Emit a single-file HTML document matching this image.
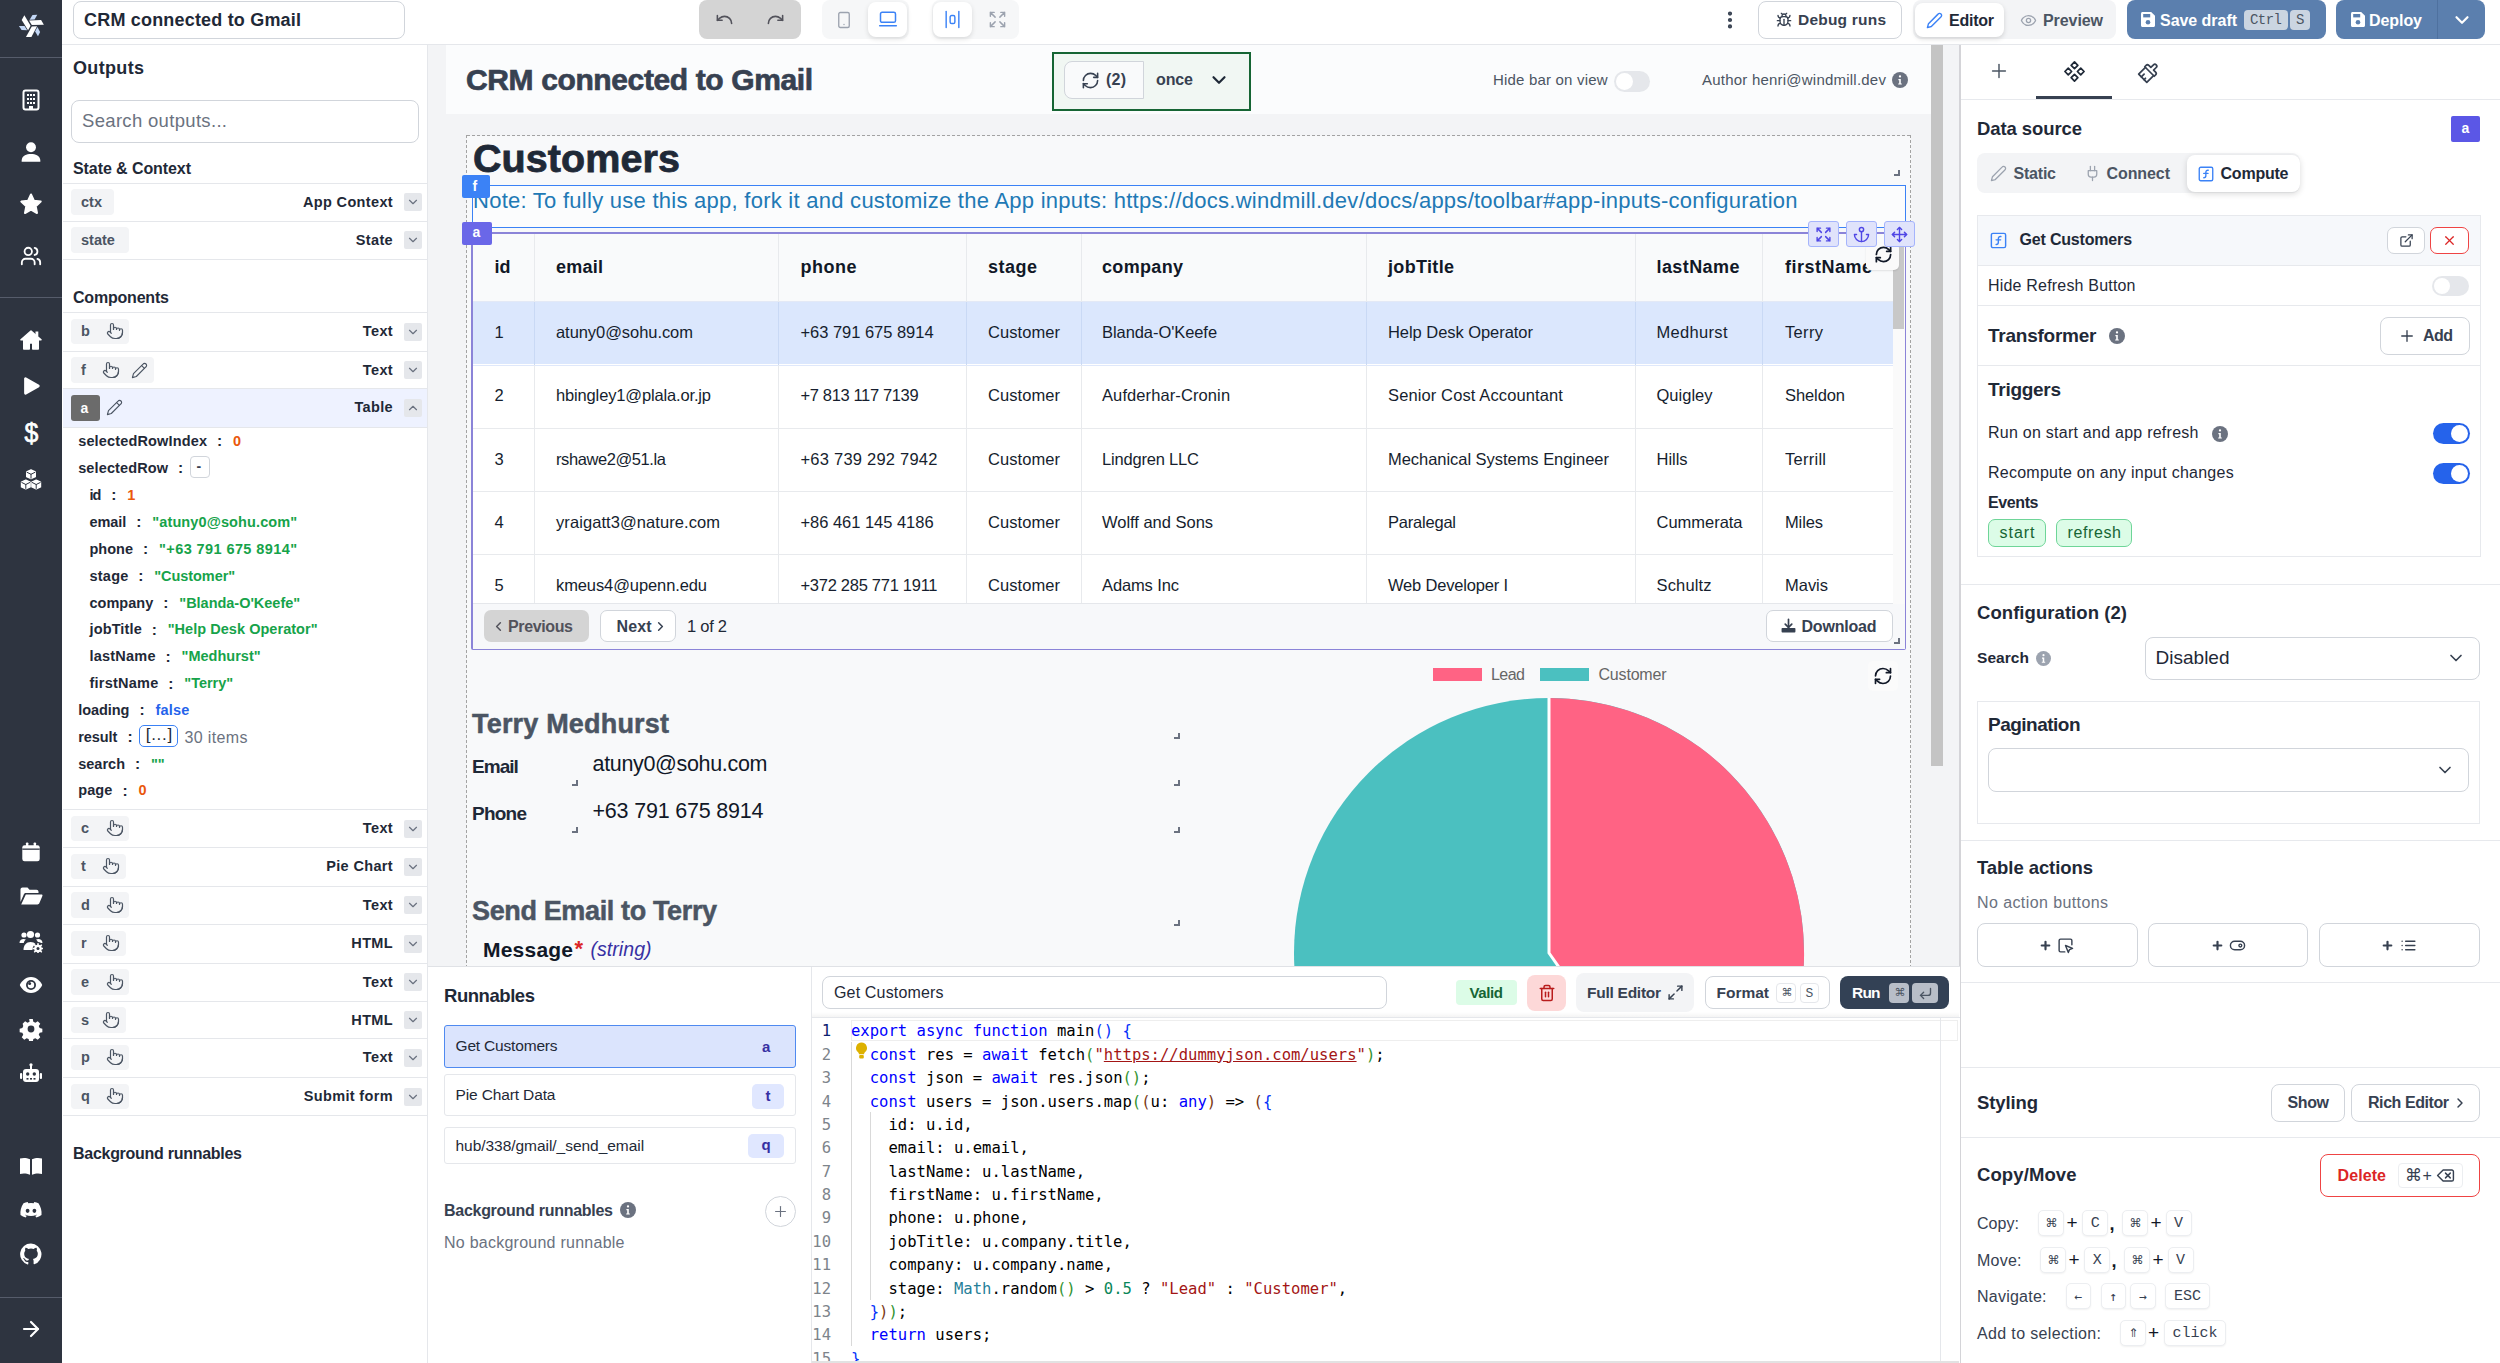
<!DOCTYPE html>
<html lang="en"><head><meta charset="utf-8"><title>CRM connected to Gmail</title><style>
*{box-sizing:border-box;margin:0;padding:0}
html,body{width:2500px;height:1363px;overflow:hidden;background:#fff}
body{position:relative;font-family:"Liberation Sans",sans-serif;color:#1f2937}
.b{position:absolute;display:block}
.t{position:absolute;white-space:nowrap;display:block}
</style></head><body>
<div class="b" style="left:0px;top:0px;width:62px;height:1363px;background:#2e3440;"></div>
<div class="b" style="left:0px;top:57px;width:62px;height:1px;background:#565c6b;"></div>
<div class="b" style="left:0px;top:297px;width:62px;height:1px;background:#565c6b;"></div>
<div class="b" style="left:0px;top:1297px;width:62px;height:1px;background:#565c6b;"></div>
<svg class="b" style="left:0;top:0" width="62" height="56" viewBox="0 0 62 56"><polygon points="29.60,19.80 32.50,15.00 37.30,14.70 34.60,19.60" fill="#c3d7f6"/><polygon points="37.41,27.09 40.12,32.00 37.98,36.31 35.08,31.52" fill="#c3d7f6"/><polygon points="27.19,30.21 21.58,30.10 18.92,26.09 24.52,25.98" fill="#c3d7f6"/><polygon points="29.10,20.50 41.10,20.10 43.90,24.80 31.80,25.00" fill="#fff"/><polygon points="37.05,26.31 31.40,36.90 25.93,36.98 31.81,26.40" fill="#fff"/><polygon points="28.05,30.29 21.70,20.10 24.37,15.32 30.59,25.70" fill="#fff"/></svg>
<svg class="b" style="left:19.0px;top:88.0px;" width="24" height="24" viewBox="0 0 24 24" fill="#fff" stroke="none" stroke-width="0" stroke-linecap="round" stroke-linejoin="round"><rect x="4.5" y="2.5" width="15" height="19" rx="2" fill="none" stroke="#fff" stroke-width="2"/><rect x="8" y="6" width="2" height="2" fill="#fff"/><rect x="8" y="10" width="2" height="2" fill="#fff"/><rect x="8" y="14" width="2" height="2" fill="#fff"/><rect x="11" y="6" width="2" height="2" fill="#fff"/><rect x="11" y="10" width="2" height="2" fill="#fff"/><rect x="11" y="14" width="2" height="2" fill="#fff"/><rect x="14" y="6" width="2" height="2" fill="#fff"/><rect x="14" y="10" width="2" height="2" fill="#fff"/><rect x="14" y="14" width="2" height="2" fill="#fff"/><rect x="10" y="18" width="4" height="3.5" fill="#fff"/></svg>
<svg class="b" style="left:20.0px;top:141.0px;" width="22" height="22" viewBox="0 0 24 24" fill="#fff" stroke="none" stroke-width="0" stroke-linecap="round" stroke-linejoin="round"><circle cx="12" cy="6.800" r="5.400"/><path d="M1.800 22.600c0-1.200 0-1.800.3-2.900 1-3.700 4.700-5.500 9.900-5.500s8.900 1.800 9.900 5.500c.3 1.100.3 1.700.3 2.900z"/></svg>
<svg class="b" style="left:19.0px;top:192.0px;" width="24" height="24" viewBox="0 0 24 24" fill="#fff" stroke="none" stroke-width="0" stroke-linecap="round" stroke-linejoin="round"><path d="M12 2.500l2.900 6.200 6.800.9-5 4.700 1.300 6.700L12 17.700 6 21l1.300-6.700-5-4.700 6.800-.9z" stroke="#fff" stroke-width="2" stroke-linejoin="round"/></svg>
<svg class="b" style="left:20.0px;top:245.0px;" width="22" height="22" viewBox="0 0 24 24" fill="none" stroke="#fff" stroke-width="2" stroke-linecap="round" stroke-linejoin="round"><path d="M16 21v-2a4 4 0 0 0-4-4H6a4 4 0 0 0-4 4v2"/><circle cx="9" cy="7" r="4"/><path d="M22 21v-2a4 4 0 0 0-3-3.87"/><path d="M16 3.13a4 4 0 0 1 0 7.75"/></svg>
<svg class="b" style="left:19.0px;top:328.0px;" width="24" height="24" viewBox="0 0 24 24" fill="#fff" stroke="none" stroke-width="0" stroke-linecap="round" stroke-linejoin="round"><path d="M12 3L2 11.800h2.800V21h5.400v-6h3.600v6h5.400v-9.200H22z" stroke="#fff" stroke-width="1.600" stroke-linejoin="round"/><rect x="16.500" y="3.500" width="2.800" height="5" /></svg>
<svg class="b" style="left:20.0px;top:375.0px;" width="22" height="22" viewBox="0 0 24 24" fill="#fff" stroke="none" stroke-width="0" stroke-linecap="round" stroke-linejoin="round"><path d="M6 4v16l14-8z" stroke="#fff" stroke-width="3" stroke-linejoin="round"/></svg>
<span class="t" style="top:416.0px;font-size:27px;line-height:35px;color:#fff;left:23.7px;-webkit-text-stroke:0.7px #fff;transform:scaleX(0.92);transform-origin:center;">$</span>
<svg class="b" style="left:19.0px;top:468.0px;" width="24" height="24" viewBox="0 0 24 24" fill="#fff" stroke="none" stroke-width="0" stroke-linecap="round" stroke-linejoin="round"><g stroke="#fff" stroke-width="1.400" stroke-linejoin="round"><path d="M12 2l4.300 1.900v4.800L12 10.600 7.700 8.700V3.900z"/><path d="M6.800 12.200l4.300 1.900v4.800l-4.300 1.900-4.300-1.900v-4.800z"/><path d="M17.200 12.200l4.300 1.900v4.800l-4.300 1.900-4.300-1.900v-4.800z"/></g><path d="M12 6.300v4M6.800 16.500v4M17.200 16.500v4M8 4.300l4 2 4-2M2.800 14.500l4 2 4-2M13.200 14.500l4 2 4-2" stroke="#2e3440" stroke-width="1" fill="none"/></svg>
<svg class="b" style="left:20.0px;top:841.0px;" width="22" height="22" viewBox="0 0 24 24" fill="#fff" stroke="none" stroke-width="0" stroke-linecap="round" stroke-linejoin="round"><rect x="2.5" y="4.5" width="19" height="17.5" rx="2.5"/><rect x="6.5" y="1.5" width="2.6" height="5" rx="1"/><rect x="14.9" y="1.5" width="2.6" height="5" rx="1"/><rect x="2.5" y="8.2" width="19" height="1.4" fill="#2e3440"/></svg>
<svg class="b" style="left:19.0px;top:884.0px;" width="24" height="24" viewBox="0 0 24 24" fill="#fff" stroke="none" stroke-width="0" stroke-linecap="round" stroke-linejoin="round"><path d="M1.5 5.5c0-1.1.9-2 2-2h5l2 2.2h7c1.1 0 2 .9 2 2V9H6.8c-.9 0-1.7.6-2 1.4L1.5 18z"/><path d="M6.8 10.6h15.8c.7 0 1.1.7.8 1.3l-3.1 7.4c-.3.7-1 1.2-1.8 1.2H2.2z"/></svg>
<svg class="b" style="left:19.0px;top:929.0px;" width="24" height="24" viewBox="0 0 24 24" fill="#fff" stroke="none" stroke-width="0" stroke-linecap="round" stroke-linejoin="round"><circle cx="5" cy="6" r="2.6"/><circle cx="11.5" cy="5.5" r="3.6"/><circle cx="18.5" cy="6" r="2.6"/><path d="M.5 14c0-2.5 1.8-4 4.2-4 .9 0 1.6.2 2.2.6-1.2 1-2 2.300-2.100 3.400z"/><path d="M4.500 21c0-5 3-8 7-8 2.300 0 4 .8 5.200 2.300-1.900.9-3.200 2.900-3.200 5.200 0 .2 0 .3.030.5z"/><path d="M23.500 14c0-2.500-1.800-4-4.200-4-.9 0-1.600.2-2.200.6.800.7 1.400 1.500 1.800 2.500 1.200.1 2.300.5 3.200.9z"/><circle cx="19" cy="19.500" r="3.800"/><circle cx="19" cy="19.500" r="1.500" fill="#2e3440"/><path d="M19 14.800v1.400M19 22.800v1.400M14.300 19.500h1.400M22.300 19.500h1.400M15.700 16.200l1 1M21.300 21.800l1 1M15.700 22.800l1-1M21.300 17.200l1-1" stroke="#fff" stroke-width="1.600"/></svg>
<svg class="b" style="left:19.0px;top:973.0px;" width="24" height="24" viewBox="0 0 24 24" fill="#fff" stroke="none" stroke-width="0" stroke-linecap="round" stroke-linejoin="round"><path d="M12 4C6 4 2 9 .8 12 2 15 6 20 12 20s10-5 11.200-8C22 9 18 4 12 4z"/><circle cx="12" cy="12" r="5" fill="#2e3440"/><circle cx="12" cy="12" r="3.200" fill="#fff"/><circle cx="10.600" cy="10.600" r="1.500" fill="#2e3440"/></svg>
<svg class="b" style="left:19.0px;top:1017.0px;" width="24" height="24" viewBox="0 0 24 24" fill="#fff" stroke="none" stroke-width="0" stroke-linecap="round" stroke-linejoin="round"><path d="M10 1h4l.6 3 2.300 1 2.600-1.700 2.800 2.800-1.700 2.600 1 2.300 3 .6v4l-3 .6-1 2.300 1.700 2.600-2.800 2.800-2.600-1.700-2.300 1-.6 3h-4l-.6-3-2.300-1-2.600 1.700-2.800-2.800 1.700-2.600-1-2.300-3-.6v-4l3-.6 1-2.300L2.700 6.100l2.800-2.800L8.100 5l2.300-1z" transform="translate(1.200 1.200) scale(.9)"/><circle cx="12" cy="12" r="3.400" fill="#2e3440"/></svg>
<svg class="b" style="left:19.0px;top:1062.0px;" width="24" height="24" viewBox="0 0 24 24" fill="#fff" stroke="none" stroke-width="0" stroke-linecap="round" stroke-linejoin="round"><rect x="4" y="7" width="16" height="13" rx="3"/><rect x="11" y="2.500" width="2" height="5"/><circle cx="12" cy="2.800" r="1.600"/><rect x="1" y="11" width="2.200" height="6" rx="1"/><rect x="20.800" y="11" width="2.200" height="6" rx="1"/><circle cx="8.700" cy="12" r="1.700" fill="#2e3440"/><circle cx="15.300" cy="12" r="1.700" fill="#2e3440"/><rect x="7.500" y="16" width="2" height="1.600" fill="#2e3440"/><rect x="11" y="16" width="2" height="1.600" fill="#2e3440"/><rect x="14.500" y="16" width="2" height="1.600" fill="#2e3440"/></svg>
<svg class="b" style="left:19.0px;top:1154.0px;" width="24" height="24" viewBox="0 0 24 24" fill="#fff" stroke="none" stroke-width="0" stroke-linecap="round" stroke-linejoin="round"><path d="M1 4.500c3-.9 6.500-.9 10 .8v15.500c-3.500-1.600-7-1.600-10-.8z"/><path d="M23 4.500c-3-.9-6.500-.9-10 .8v15.500c3.500-1.600 7-1.600 10-.8z"/></svg>
<svg class="b" style="left:19.0px;top:1198.0px;" width="24" height="24" viewBox="0 0 24 24" fill="#fff" stroke="none" stroke-width="0" stroke-linecap="round" stroke-linejoin="round"><path d="M19.500 5.300A17 17 0 0 0 15.300 4l-.6 1.200a15.600 15.600 0 0 0-5.400 0L8.700 4a17 17 0 0 0-4.200 1.300C1.800 9.300 1.100 13.200 1.500 17a17 17 0 0 0 5.200 2.600l1.100-1.800c-.6-.2-1.200-.5-1.700-.8l.4-.3a12.200 12.200 0 0 0 11 0l.4.3c-.5.300-1.100.6-1.700.8l1.100 1.800a17 17 0 0 0 5.200-2.600c.5-4.400-.8-8.300-3-11.700z"/><ellipse cx="8.600" cy="12.800" rx="1.900" ry="2.100" fill="#2e3440"/><ellipse cx="15.400" cy="12.800" rx="1.900" ry="2.100" fill="#2e3440"/></svg>
<svg class="b" style="left:19.0px;top:1242.0px;" width="24" height="24" viewBox="0 0 24 24" fill="#fff" stroke="none" stroke-width="0" stroke-linecap="round" stroke-linejoin="round"><path d="M12 1.500A10.700 10.700 0 0 0 8.600 22.400c.5.1.7-.2.7-.5v-2c-3 .7-3.600-1.300-3.600-1.300-.5-1.200-1.200-1.600-1.200-1.600-1-.7.1-.7.1-.7 1.100.1 1.700 1.100 1.700 1.100 1 1.600 2.500 1.200 3.100.9.100-.7.400-1.200.7-1.400-2.400-.3-4.900-1.200-4.900-5.300 0-1.200.4-2.100 1.100-2.900-.1-.3-.5-1.400.1-2.800 0 0 .9-.3 2.900 1.100a10 10 0 0 1 5.400 0c2-1.400 2.900-1.100 2.900-1.100.6 1.400.2 2.500.1 2.800.7.800 1.100 1.700 1.100 2.900 0 4.100-2.500 5-4.900 5.300.4.300.7 1 .7 2v2.900c0 .3.200.6.700.5A10.700 10.700 0 0 0 12 1.500z"/></svg>
<svg class="b" style="left:19.0px;top:1317.0px;" width="24" height="24" viewBox="0 0 24 24" fill="none" stroke="#fff" stroke-width="2.2" stroke-linecap="round" stroke-linejoin="round"><path d="M5 12h14"/><path d="m12 5 7 7-7 7"/></svg>
<div class="b" style="left:62px;top:44px;width:2438px;height:1px;background:#e5e7eb;"></div>
<div class="b" style="left:73px;top:1px;width:332px;height:38px;background:#fff;border:1px solid #d1d5db;border-radius:8px;"></div>
<span class="t" style="top:8.5px;font-size:18px;line-height:23px;color:#1f2937;font-weight:700;letter-spacing:0.19px;left:84.0px;">CRM connected to Gmail</span>
<div class="b" style="left:699px;top:0px;width:102px;height:39px;background:#d4d4d4;border-radius:8px;"></div>
<svg class="b" style="left:714.5px;top:9.5px;" width="19" height="19" viewBox="0 0 24 24" fill="none" stroke="#52525b" stroke-width="2" stroke-linecap="round" stroke-linejoin="round"><path d="M3 7v6h6"/><path d="M21 17a9 9 0 0 0-9-9 9 9 0 0 0-6 2.3L3 13"/></svg>
<svg class="b" style="left:765.5px;top:9.5px;" width="19" height="19" viewBox="0 0 24 24" fill="none" stroke="#52525b" stroke-width="2" stroke-linecap="round" stroke-linejoin="round"><path d="M21 7v6h-6"/><path d="M3 17a9 9 0 0 1 9-9 9 9 0 0 1 6 2.3l3 2.7"/></svg>
<div class="b" style="left:822px;top:0px;width:87px;height:39px;background:#f6f7f8;border-radius:8px;"></div>
<div class="b" style="left:868px;top:2px;width:39px;height:35px;background:#fff;border-radius:8px;box-shadow:0 2px 5px rgba(0,0,0,.12);"></div>
<svg class="b" style="left:834.5px;top:10.5px;" width="18" height="18" viewBox="0 0 24 24" fill="none" stroke="#9ca3af" stroke-width="1.8" stroke-linecap="round" stroke-linejoin="round"><rect width="14" height="20" x="5" y="2" rx="2" ry="2"/><path d="M12 18h.01"/></svg>
<svg class="b" style="left:877.5px;top:9.0px;" width="20" height="20" viewBox="0 0 24 24" fill="none" stroke="#3b82f6" stroke-width="1.8" stroke-linecap="round" stroke-linejoin="round"><rect width="18" height="12" x="3" y="4" rx="2" ry="2"/><line x1="2" x2="22" y1="20" y2="20"/></svg>
<div class="b" style="left:932px;top:0px;width:87px;height:39px;background:#f6f7f8;border-radius:8px;"></div>
<div class="b" style="left:933px;top:2px;width:39px;height:35px;background:#fff;border-radius:8px;box-shadow:0 2px 5px rgba(0,0,0,.12);"></div>
<svg class="b" style="left:943.0px;top:10.0px;" width="19" height="19" viewBox="0 0 24 24" fill="none" stroke="#3b82f6" stroke-width="1.8" stroke-linecap="round" stroke-linejoin="round"><rect width="6" height="10" x="9" y="7" rx="2"/><path d="M4 22V2"/><path d="M20 22V2"/></svg>
<svg class="b" style="left:987.5px;top:10.0px;" width="19" height="19" viewBox="0 0 24 24" fill="none" stroke="#9ca3af" stroke-width="1.8" stroke-linecap="round" stroke-linejoin="round"><path d="m21 21-6-6m6 6v-4.8m0 4.8h-4.8"/><path d="M3 16.2V21m0 0h4.8M3 21l6-6"/><path d="M21 7.8V3m0 0h-4.8M21 3l-6 6"/><path d="M3 7.8V3m0 0h4.8M3 3l6 6"/></svg>
<svg class="b" style="left:1718.5px;top:9.0px;" width="22" height="22" viewBox="0 0 24 24" fill="none" stroke="#374151" stroke-width="2.6" stroke-linecap="round" stroke-linejoin="round"><circle cx="12" cy="12" r="1"/><circle cx="12" cy="5" r="1"/><circle cx="12" cy="19" r="1"/></svg>
<div class="b" style="left:1758px;top:1px;width:144px;height:38px;background:#fff;border:1px solid #d1d5db;border-radius:8px;"></div>
<svg class="b" style="left:1775.5px;top:12.0px;" width="16" height="16" viewBox="0 0 24 24" fill="none" stroke="#374151" stroke-width="2" stroke-linecap="round" stroke-linejoin="round"><path d="m8 2 1.88 1.88"/><path d="M14.12 3.88 16 2"/><path d="M9 7.13v-1a3.003 3.003 0 1 1 6 0v1"/><path d="M12 20c-3.3 0-6-2.7-6-6v-3a4 4 0 0 1 4-4h4a4 4 0 0 1 4 4v3c0 3.3-2.7 6-6 6"/><path d="M12 20v-9"/><path d="M6.53 9C4.6 8.8 3 7.1 3 5"/><path d="M6 13H2"/><path d="M3 21c0-2.1 1.7-3.9 3.8-4"/><path d="M20.97 5c0 2.1-1.6 3.8-3.5 4"/><path d="M22 13h-4"/><path d="M17.2 17c2.1.1 3.8 1.9 3.8 4"/></svg>
<span class="t" style="top:10.0px;font-size:15.5px;line-height:20px;color:#374151;font-weight:700;letter-spacing:0.21px;left:1798.0px;">Debug runs</span>
<div class="b" style="left:1913px;top:0px;width:203px;height:39px;background:#f3f4f6;border-radius:8px;"></div>
<div class="b" style="left:1915px;top:3px;width:89px;height:34px;background:#fff;border-radius:8px;box-shadow:0 2px 5px rgba(0,0,0,.14);"></div>
<svg class="b" style="left:1925.5px;top:11.5px;" width="17" height="17" viewBox="0 0 24 24" fill="none" stroke="#3b82f6" stroke-width="2" stroke-linecap="round" stroke-linejoin="round"><path d="M17 3a2.85 2.83 0 1 1 4 4L7.5 20.5 2 22l1.5-5.5Z"/></svg>
<span class="t" style="top:9.5px;font-size:16px;line-height:21px;color:#1f2937;font-weight:700;letter-spacing:-0.24px;left:1949.0px;">Editor</span>
<svg class="b" style="left:2020.0px;top:11.5px;" width="17" height="17" viewBox="0 0 24 24" fill="none" stroke="#9ca3af" stroke-width="1.8" stroke-linecap="round" stroke-linejoin="round"><path d="M2 12s3-7 10-7 10 7 10 7-3 7-10 7-10-7-10-7Z"/><circle cx="12" cy="12" r="3"/></svg>
<span class="t" style="top:9.5px;font-size:16px;line-height:21px;color:#4b5563;font-weight:700;letter-spacing:-0.08px;left:2043.0px;">Preview</span>
<div class="b" style="left:2127px;top:0px;width:199px;height:39px;background:#5b7fae;border-radius:8px;"></div>
<svg class="b" style="left:2141px;top:12px" width="14" height="15" viewBox="0 0 14 15"><path d="M1.500 0h8.700L14 3.800V13.500c0 .8-.7 1.500-1.500 1.500h-11C.7 15 0 14.300 0 13.500v-12C0 .7.7 0 1.500 0z" fill="#fff"/><rect x="2.200" y="2" width="7" height="3.400" fill="#5b7fae"/><circle cx="7" cy="10.200" r="2.300" fill="#5b7fae"/></svg>
<span class="t" style="top:9.5px;font-size:16px;line-height:21px;color:#fff;font-weight:700;letter-spacing:-0.04px;left:2160.0px;">Save draft</span>
<div class="b" style="left:2244px;top:10px;width:44px;height:20px;background:#cbd5e1;border-radius:4px;"></div>
<span class="t" style="top:11.0px;font-size:14px;line-height:18px;color:#4b5563;font-family:'Liberation Mono',monospace;letter-spacing:-0.54px;left:2250.0px;">Ctrl</span>
<div class="b" style="left:2290px;top:10px;width:20px;height:20px;background:#cbd5e1;border-radius:4px;"></div>
<span class="t" style="top:11.0px;font-size:14px;line-height:18px;color:#4b5563;font-family:'Liberation Mono',monospace;left:2296.0px;">S</span>
<div class="b" style="left:2336px;top:0px;width:149px;height:39px;background:#5b7fae;border-radius:8px;"></div>
<div class="b" style="left:2437px;top:0px;width:1px;height:39px;background:#4f719f;"></div>
<svg class="b" style="left:2351px;top:12px" width="14" height="15" viewBox="0 0 14 15"><path d="M1.500 0h8.700L14 3.800V13.500c0 .8-.7 1.500-1.500 1.500h-11C.7 15 0 14.300 0 13.500v-12C0 .7.7 0 1.500 0z" fill="#fff"/><rect x="2.200" y="2" width="7" height="3.400" fill="#5b7fae"/><circle cx="7" cy="10.200" r="2.300" fill="#5b7fae"/></svg>
<span class="t" style="top:9.5px;font-size:16px;line-height:21px;color:#fff;font-weight:700;letter-spacing:-0.07px;left:2369.0px;">Deploy</span>
<svg class="b" style="left:2450.5px;top:9.0px;" width="22" height="22" viewBox="0 0 24 24" fill="none" stroke="#fff" stroke-width="2.4" stroke-linecap="round" stroke-linejoin="round"><path d="m6 9 6 6 6-6"/></svg>
<div class="b" style="left:427px;top:45px;width:1px;height:1318px;background:#e5e7eb;"></div>
<span class="t" style="top:56.5px;font-size:18px;line-height:23px;color:#1f2937;font-weight:700;letter-spacing:0.34px;left:73.0px;">Outputs</span>
<div class="b" style="left:71px;top:100px;width:348px;height:43px;background:#fff;border:1px solid #d1d5db;border-radius:8px;"></div>
<span class="t" style="top:109.0px;font-size:18.5px;line-height:24px;color:#6b7280;letter-spacing:0.32px;left:82.0px;">Search outputs...</span>
<span class="t" style="top:157.5px;font-size:16px;line-height:21px;color:#1f2937;font-weight:700;letter-spacing:-0.08px;left:73.0px;">State &amp; Context</span>
<div class="b" style="left:63px;top:182.5px;width:364px;height:1.0px;background:#e5e7eb;"></div>
<div class="b" style="left:71px;top:189.0px;width:43px;height:25.5px;background:#f3f4f6;border-radius:4px;"></div>
<span class="t" style="top:192.5px;font-size:14.5px;line-height:19px;color:#4b5563;font-weight:700;left:81.0px;">ctx</span>
<span class="t" style="top:192.5px;font-size:14.5px;line-height:19px;color:#1f2937;font-weight:700;letter-spacing:0.35px;right:2107.0px;">App Context</span>
<div class="b" style="left:404px;top:193.0px;width:18px;height:18.0px;background:#e5e7eb;border-radius:2px;"></div>
<svg class="b" style="left:406.0px;top:195.0px;" width="14" height="14" viewBox="0 0 24 24" fill="none" stroke="#6b7280" stroke-width="2" stroke-linecap="round" stroke-linejoin="round"><path d="m6 9 6 6 6-6"/></svg>
<div class="b" style="left:63px;top:220.5px;width:364px;height:1.0px;background:#e5e7eb;"></div>
<div class="b" style="left:71px;top:227.0px;width:58px;height:25.5px;background:#f3f4f6;border-radius:4px;"></div>
<span class="t" style="top:230.5px;font-size:14.5px;line-height:19px;color:#4b5563;font-weight:700;left:81.0px;">state</span>
<span class="t" style="top:230.5px;font-size:14.5px;line-height:19px;color:#1f2937;font-weight:700;letter-spacing:0.35px;right:2107.0px;">State</span>
<div class="b" style="left:404px;top:231.0px;width:18px;height:18.0px;background:#e5e7eb;border-radius:2px;"></div>
<svg class="b" style="left:406.0px;top:233.0px;" width="14" height="14" viewBox="0 0 24 24" fill="none" stroke="#6b7280" stroke-width="2" stroke-linecap="round" stroke-linejoin="round"><path d="m6 9 6 6 6-6"/></svg>
<div class="b" style="left:63px;top:258.7px;width:364px;height:1.0px;background:#e5e7eb;"></div>
<span class="t" style="top:286.5px;font-size:16px;line-height:21px;color:#1f2937;font-weight:700;letter-spacing:-0.20px;left:73.0px;">Components</span>
<div class="b" style="left:63px;top:312.2px;width:364px;height:1.0px;background:#e5e7eb;"></div>
<div class="b" style="left:71px;top:318.7px;width:58px;height:25.5px;background:#f3f4f6;border-radius:4px;"></div>
<span class="t" style="top:322.2px;font-size:14.5px;line-height:19px;color:#4b5563;font-weight:700;left:81.0px;">b</span>
<svg class="b" style="left:106.0px;top:322.2px;" width="18" height="18" viewBox="0 0 24 24" fill="none" stroke="#4b5563" stroke-width="1.6" stroke-linecap="round" stroke-linejoin="round"><path d="M22 14a8 8 0 0 1-8 8"/><path d="M18 11v-1a2 2 0 0 0-2-2a2 2 0 0 0-2 2"/><path d="M14 10V9a2 2 0 0 0-2-2a2 2 0 0 0-2 2v1"/><path d="M10 9.5V4a2 2 0 0 0-2-2a2 2 0 0 0-2 2v10"/><path d="M18 11a2 2 0 1 1 4 0v3a8 8 0 0 1-8 8h-2c-2.8 0-4.5-.86-5.99-2.34l-3.6-3.6a2 2 0 0 1 2.83-2.82L7 15"/></svg>
<span class="t" style="top:322.2px;font-size:14.5px;line-height:19px;color:#1f2937;font-weight:700;letter-spacing:0.35px;right:2107.0px;">Text</span>
<div class="b" style="left:404px;top:322.7px;width:18px;height:18.0px;background:#e5e7eb;border-radius:2px;"></div>
<svg class="b" style="left:406.0px;top:324.7px;" width="14" height="14" viewBox="0 0 24 24" fill="none" stroke="#6b7280" stroke-width="2" stroke-linecap="round" stroke-linejoin="round"><path d="m6 9 6 6 6-6"/></svg>
<div class="b" style="left:63px;top:350.5px;width:364px;height:1.0px;background:#e5e7eb;"></div>
<div class="b" style="left:71px;top:357.0px;width:83px;height:25.5px;background:#f3f4f6;border-radius:4px;"></div>
<span class="t" style="top:360.5px;font-size:14.5px;line-height:19px;color:#4b5563;font-weight:700;left:81.0px;">f</span>
<svg class="b" style="left:102.0px;top:360.5px;" width="18" height="18" viewBox="0 0 24 24" fill="none" stroke="#4b5563" stroke-width="1.6" stroke-linecap="round" stroke-linejoin="round"><path d="M22 14a8 8 0 0 1-8 8"/><path d="M18 11v-1a2 2 0 0 0-2-2a2 2 0 0 0-2 2"/><path d="M14 10V9a2 2 0 0 0-2-2a2 2 0 0 0-2 2v1"/><path d="M10 9.5V4a2 2 0 0 0-2-2a2 2 0 0 0-2 2v10"/><path d="M18 11a2 2 0 1 1 4 0v3a8 8 0 0 1-8 8h-2c-2.8 0-4.5-.86-5.99-2.34l-3.6-3.6a2 2 0 0 1 2.83-2.82L7 15"/></svg>
<svg class="b" style="left:130.5px;top:361.5px;" width="17" height="17" viewBox="0 0 24 24" fill="none" stroke="#4b5563" stroke-width="1.6" stroke-linecap="round" stroke-linejoin="round"><path d="M17 3a2.85 2.83 0 1 1 4 4L7.5 20.5 2 22l1.5-5.5Z"/><path d="m15 5 4 4"/></svg>
<span class="t" style="top:360.5px;font-size:14.5px;line-height:19px;color:#1f2937;font-weight:700;letter-spacing:0.35px;right:2107.0px;">Text</span>
<div class="b" style="left:404px;top:361.0px;width:18px;height:18.0px;background:#e5e7eb;border-radius:2px;"></div>
<svg class="b" style="left:406.0px;top:363.0px;" width="14" height="14" viewBox="0 0 24 24" fill="none" stroke="#6b7280" stroke-width="2" stroke-linecap="round" stroke-linejoin="round"><path d="m6 9 6 6 6-6"/></svg>
<div class="b" style="left:63px;top:388.3px;width:364px;height:39.0px;background:#eef2ff;"></div>
<div class="b" style="left:63px;top:388.3px;width:364px;height:1.0px;background:#e5e7eb;"></div>
<div class="b" style="left:71px;top:394.8px;width:29px;height:26.5px;background:#6b6b6b;border-radius:3px;"></div>
<span class="t" style="top:398.8px;font-size:14px;line-height:18px;color:#fff;font-weight:700;left:80.5px;">a</span>
<svg class="b" style="left:105.5px;top:399.3px;" width="17" height="17" viewBox="0 0 24 24" fill="none" stroke="#4b5563" stroke-width="1.6" stroke-linecap="round" stroke-linejoin="round"><path d="M17 3a2.85 2.83 0 1 1 4 4L7.5 20.5 2 22l1.5-5.5Z"/><path d="m15 5 4 4"/></svg>
<span class="t" style="top:398.3px;font-size:14.5px;line-height:19px;color:#1f2937;font-weight:700;letter-spacing:0.35px;right:2107.0px;">Table</span>
<div class="b" style="left:404px;top:398.8px;width:18px;height:18.0px;background:#e5e7eb;border-radius:2px;"></div>
<svg class="b" style="left:406.0px;top:400.8px;" width="14" height="14" viewBox="0 0 24 24" fill="none" stroke="#6b7280" stroke-width="2" stroke-linecap="round" stroke-linejoin="round"><path d="m18 15-6-6-6 6"/></svg>
<div class="b" style="left:63px;top:427px;width:364px;height:1px;background:#e5e7eb;"></div>
<span class="t" style="top:431.5px;font-size:14.5px;line-height:19px;color:#1f2937;font-weight:700;letter-spacing:0.15px;left:78.2px;">selectedRowIndex</span>
<span class="t" style="top:431.0px;font-size:15.5px;line-height:20px;color:#1f2937;font-weight:700;left:217.0px;">:</span>
<span class="t" style="top:431.5px;font-size:14.5px;line-height:19px;color:#ea580c;font-weight:700;left:233.0px;">0</span>
<span class="t" style="top:458.5px;font-size:14.5px;line-height:19px;color:#1f2937;font-weight:700;letter-spacing:0.12px;left:78.2px;">selectedRow</span>
<span class="t" style="top:458.0px;font-size:15.5px;line-height:20px;color:#1f2937;font-weight:700;left:178.0px;">:</span>
<div class="b" style="left:189.5px;top:456px;width:20.0px;height:22px;background:#fff;border:1px solid #d1d5db;border-radius:4px;"></div>
<span class="t" style="top:457.0px;font-size:14px;line-height:18px;color:#374151;font-weight:700;left:196.5px;">-</span>
<span class="t" style="top:485.5px;font-size:14.5px;line-height:19px;color:#1f2937;font-weight:700;letter-spacing:-1.08px;left:89.5px;">id</span>
<span class="t" style="top:485.0px;font-size:15.5px;line-height:20px;color:#1f2937;font-weight:700;left:111.3px;">:</span>
<span class="t" style="top:485.5px;font-size:14.5px;line-height:19px;color:#ea580c;font-weight:700;left:127.3px;">1</span>
<span class="t" style="top:512.5px;font-size:14.5px;line-height:19px;color:#1f2937;font-weight:700;letter-spacing:-0.07px;left:89.5px;">email</span>
<span class="t" style="top:512.0px;font-size:15.5px;line-height:20px;color:#1f2937;font-weight:700;left:136.3px;">:</span>
<span class="t" style="top:512.5px;font-size:14.5px;line-height:19px;color:#16a34a;font-weight:700;letter-spacing:0.11px;left:152.3px;">"atuny0@sohu.com"</span>
<span class="t" style="top:539.5px;font-size:14.5px;line-height:19px;color:#1f2937;font-weight:700;letter-spacing:0.00px;left:89.5px;">phone</span>
<span class="t" style="top:539.0px;font-size:15.5px;line-height:20px;color:#1f2937;font-weight:700;left:143.0px;">:</span>
<span class="t" style="top:539.5px;font-size:14.5px;line-height:19px;color:#16a34a;font-weight:700;letter-spacing:0.41px;left:159.0px;">"+63 791 675 8914"</span>
<span class="t" style="top:566.5px;font-size:14.5px;line-height:19px;color:#1f2937;font-weight:700;letter-spacing:0.23px;left:89.5px;">stage</span>
<span class="t" style="top:566.0px;font-size:15.5px;line-height:20px;color:#1f2937;font-weight:700;left:138.3px;">:</span>
<span class="t" style="top:566.5px;font-size:14.5px;line-height:19px;color:#16a34a;font-weight:700;letter-spacing:-0.07px;left:154.3px;">"Customer"</span>
<span class="t" style="top:593.5px;font-size:14.5px;line-height:19px;color:#1f2937;font-weight:700;letter-spacing:0.02px;left:89.5px;">company</span>
<span class="t" style="top:593.0px;font-size:15.5px;line-height:20px;color:#1f2937;font-weight:700;left:163.3px;">:</span>
<span class="t" style="top:593.5px;font-size:14.5px;line-height:19px;color:#16a34a;font-weight:700;letter-spacing:-0.02px;left:179.3px;">"Blanda-O'Keefe"</span>
<span class="t" style="top:620.0px;font-size:14.5px;line-height:19px;color:#1f2937;font-weight:700;letter-spacing:0.13px;left:89.5px;">jobTitle</span>
<span class="t" style="top:619.5px;font-size:15.5px;line-height:20px;color:#1f2937;font-weight:700;left:151.7px;">:</span>
<span class="t" style="top:620.0px;font-size:14.5px;line-height:19px;color:#16a34a;font-weight:700;letter-spacing:0.04px;left:167.7px;">"Help Desk Operator"</span>
<span class="t" style="top:647.0px;font-size:14.5px;line-height:19px;color:#1f2937;font-weight:700;letter-spacing:0.22px;left:89.5px;">lastName</span>
<span class="t" style="top:646.5px;font-size:15.5px;line-height:20px;color:#1f2937;font-weight:700;left:165.5px;">:</span>
<span class="t" style="top:647.0px;font-size:14.5px;line-height:19px;color:#16a34a;font-weight:700;letter-spacing:0.02px;left:181.5px;">"Medhurst"</span>
<span class="t" style="top:674.0px;font-size:14.5px;line-height:19px;color:#1f2937;font-weight:700;letter-spacing:0.24px;left:89.5px;">firstName</span>
<span class="t" style="top:673.5px;font-size:15.5px;line-height:20px;color:#1f2937;font-weight:700;left:168.3px;">:</span>
<span class="t" style="top:674.0px;font-size:14.5px;line-height:19px;color:#16a34a;font-weight:700;letter-spacing:-0.02px;left:184.3px;">"Terry"</span>
<span class="t" style="top:700.5px;font-size:14.5px;line-height:19px;color:#1f2937;font-weight:700;letter-spacing:-0.06px;left:78.2px;">loading</span>
<span class="t" style="top:700.0px;font-size:15.5px;line-height:20px;color:#1f2937;font-weight:700;left:139.4px;">:</span>
<span class="t" style="top:700.5px;font-size:14.5px;line-height:19px;color:#2563eb;font-weight:700;letter-spacing:0.19px;left:155.4px;">false</span>
<span class="t" style="top:727.5px;font-size:14.5px;line-height:19px;color:#1f2937;font-weight:700;letter-spacing:-0.06px;left:78.2px;">result</span>
<span class="t" style="top:727.0px;font-size:15.5px;line-height:20px;color:#1f2937;font-weight:700;left:127.4px;">:</span>
<div class="b" style="left:138.7px;top:724.5px;width:39.60000000000002px;height:22.5px;background:#fff;border:1.5px solid #3b82f6;border-radius:5px;"></div>
<span class="t" style="top:724.0px;font-size:17px;line-height:22px;color:#1f2937;letter-spacing:0.72px;left:145.7px;">[...]</span>
<span class="t" style="top:726.5px;font-size:16px;line-height:21px;color:#6b7280;letter-spacing:0.36px;left:184.5px;">30 items</span>
<span class="t" style="top:754.5px;font-size:14.5px;line-height:19px;color:#1f2937;font-weight:700;letter-spacing:0.01px;left:78.2px;">search</span>
<span class="t" style="top:754.0px;font-size:15.5px;line-height:20px;color:#1f2937;font-weight:700;left:135.0px;">:</span>
<span class="t" style="top:754.5px;font-size:14.5px;line-height:19px;color:#16a34a;font-weight:700;left:151.0px;">""</span>
<span class="t" style="top:781.0px;font-size:14.5px;line-height:19px;color:#1f2937;font-weight:700;letter-spacing:0.12px;left:78.2px;">page</span>
<span class="t" style="top:780.5px;font-size:15.5px;line-height:20px;color:#1f2937;font-weight:700;left:122.4px;">:</span>
<span class="t" style="top:781.0px;font-size:14.5px;line-height:19px;color:#ea580c;font-weight:700;left:138.4px;">0</span>
<div class="b" style="left:63px;top:809.2px;width:364px;height:1.0px;background:#e5e7eb;"></div>
<div class="b" style="left:71px;top:815.7px;width:58px;height:25.5px;background:#f3f4f6;border-radius:4px;"></div>
<span class="t" style="top:819.2px;font-size:14.5px;line-height:19px;color:#4b5563;font-weight:700;left:81.0px;">c</span>
<svg class="b" style="left:106.0px;top:819.2px;" width="18" height="18" viewBox="0 0 24 24" fill="none" stroke="#4b5563" stroke-width="1.6" stroke-linecap="round" stroke-linejoin="round"><path d="M22 14a8 8 0 0 1-8 8"/><path d="M18 11v-1a2 2 0 0 0-2-2a2 2 0 0 0-2 2"/><path d="M14 10V9a2 2 0 0 0-2-2a2 2 0 0 0-2 2v1"/><path d="M10 9.5V4a2 2 0 0 0-2-2a2 2 0 0 0-2 2v10"/><path d="M18 11a2 2 0 1 1 4 0v3a8 8 0 0 1-8 8h-2c-2.8 0-4.5-.86-5.99-2.34l-3.6-3.6a2 2 0 0 1 2.83-2.82L7 15"/></svg>
<span class="t" style="top:819.2px;font-size:14.5px;line-height:19px;color:#1f2937;font-weight:700;letter-spacing:0.35px;right:2107.0px;">Text</span>
<div class="b" style="left:404px;top:819.7px;width:18px;height:18.0px;background:#e5e7eb;border-radius:2px;"></div>
<svg class="b" style="left:406.0px;top:821.7px;" width="14" height="14" viewBox="0 0 24 24" fill="none" stroke="#6b7280" stroke-width="2" stroke-linecap="round" stroke-linejoin="round"><path d="m6 9 6 6 6-6"/></svg>
<div class="b" style="left:63px;top:847px;width:364px;height:1px;background:#e5e7eb;"></div>
<div class="b" style="left:71px;top:853.5px;width:54.5px;height:25.5px;background:#f3f4f6;border-radius:4px;"></div>
<span class="t" style="top:857.0px;font-size:14.5px;line-height:19px;color:#4b5563;font-weight:700;left:81.0px;">t</span>
<svg class="b" style="left:102.0px;top:857.0px;" width="18" height="18" viewBox="0 0 24 24" fill="none" stroke="#4b5563" stroke-width="1.6" stroke-linecap="round" stroke-linejoin="round"><path d="M22 14a8 8 0 0 1-8 8"/><path d="M18 11v-1a2 2 0 0 0-2-2a2 2 0 0 0-2 2"/><path d="M14 10V9a2 2 0 0 0-2-2a2 2 0 0 0-2 2v1"/><path d="M10 9.5V4a2 2 0 0 0-2-2a2 2 0 0 0-2 2v10"/><path d="M18 11a2 2 0 1 1 4 0v3a8 8 0 0 1-8 8h-2c-2.8 0-4.5-.86-5.99-2.34l-3.6-3.6a2 2 0 0 1 2.83-2.82L7 15"/></svg>
<span class="t" style="top:857.0px;font-size:14.5px;line-height:19px;color:#1f2937;font-weight:700;letter-spacing:0.35px;right:2107.0px;">Pie Chart</span>
<div class="b" style="left:404px;top:857.5px;width:18px;height:18.0px;background:#e5e7eb;border-radius:2px;"></div>
<svg class="b" style="left:406.0px;top:859.5px;" width="14" height="14" viewBox="0 0 24 24" fill="none" stroke="#6b7280" stroke-width="2" stroke-linecap="round" stroke-linejoin="round"><path d="m6 9 6 6 6-6"/></svg>
<div class="b" style="left:63px;top:885.5px;width:364px;height:1.0px;background:#e5e7eb;"></div>
<div class="b" style="left:71px;top:892.0px;width:58px;height:25.5px;background:#f3f4f6;border-radius:4px;"></div>
<span class="t" style="top:895.5px;font-size:14.5px;line-height:19px;color:#4b5563;font-weight:700;left:81.0px;">d</span>
<svg class="b" style="left:106.0px;top:895.5px;" width="18" height="18" viewBox="0 0 24 24" fill="none" stroke="#4b5563" stroke-width="1.6" stroke-linecap="round" stroke-linejoin="round"><path d="M22 14a8 8 0 0 1-8 8"/><path d="M18 11v-1a2 2 0 0 0-2-2a2 2 0 0 0-2 2"/><path d="M14 10V9a2 2 0 0 0-2-2a2 2 0 0 0-2 2v1"/><path d="M10 9.5V4a2 2 0 0 0-2-2a2 2 0 0 0-2 2v10"/><path d="M18 11a2 2 0 1 1 4 0v3a8 8 0 0 1-8 8h-2c-2.8 0-4.5-.86-5.99-2.34l-3.6-3.6a2 2 0 0 1 2.83-2.82L7 15"/></svg>
<span class="t" style="top:895.5px;font-size:14.5px;line-height:19px;color:#1f2937;font-weight:700;letter-spacing:0.35px;right:2107.0px;">Text</span>
<div class="b" style="left:404px;top:896.0px;width:18px;height:18.0px;background:#e5e7eb;border-radius:2px;"></div>
<svg class="b" style="left:406.0px;top:898.0px;" width="14" height="14" viewBox="0 0 24 24" fill="none" stroke="#6b7280" stroke-width="2" stroke-linecap="round" stroke-linejoin="round"><path d="m6 9 6 6 6-6"/></svg>
<div class="b" style="left:63px;top:924.2px;width:364px;height:1.0px;background:#e5e7eb;"></div>
<div class="b" style="left:71px;top:930.7px;width:54.5px;height:25.5px;background:#f3f4f6;border-radius:4px;"></div>
<span class="t" style="top:934.2px;font-size:14.5px;line-height:19px;color:#4b5563;font-weight:700;left:81.0px;">r</span>
<svg class="b" style="left:102.0px;top:934.2px;" width="18" height="18" viewBox="0 0 24 24" fill="none" stroke="#4b5563" stroke-width="1.6" stroke-linecap="round" stroke-linejoin="round"><path d="M22 14a8 8 0 0 1-8 8"/><path d="M18 11v-1a2 2 0 0 0-2-2a2 2 0 0 0-2 2"/><path d="M14 10V9a2 2 0 0 0-2-2a2 2 0 0 0-2 2v1"/><path d="M10 9.5V4a2 2 0 0 0-2-2a2 2 0 0 0-2 2v10"/><path d="M18 11a2 2 0 1 1 4 0v3a8 8 0 0 1-8 8h-2c-2.8 0-4.5-.86-5.99-2.34l-3.6-3.6a2 2 0 0 1 2.83-2.82L7 15"/></svg>
<span class="t" style="top:934.2px;font-size:14.5px;line-height:19px;color:#1f2937;font-weight:700;letter-spacing:0.35px;right:2107.0px;">HTML</span>
<div class="b" style="left:404px;top:934.7px;width:18px;height:18.0px;background:#e5e7eb;border-radius:2px;"></div>
<svg class="b" style="left:406.0px;top:936.7px;" width="14" height="14" viewBox="0 0 24 24" fill="none" stroke="#6b7280" stroke-width="2" stroke-linecap="round" stroke-linejoin="round"><path d="m6 9 6 6 6-6"/></svg>
<div class="b" style="left:63px;top:962.5px;width:364px;height:1.0px;background:#e5e7eb;"></div>
<div class="b" style="left:71px;top:969.0px;width:58px;height:25.5px;background:#f3f4f6;border-radius:4px;"></div>
<span class="t" style="top:972.5px;font-size:14.5px;line-height:19px;color:#4b5563;font-weight:700;left:81.0px;">e</span>
<svg class="b" style="left:106.0px;top:972.5px;" width="18" height="18" viewBox="0 0 24 24" fill="none" stroke="#4b5563" stroke-width="1.6" stroke-linecap="round" stroke-linejoin="round"><path d="M22 14a8 8 0 0 1-8 8"/><path d="M18 11v-1a2 2 0 0 0-2-2a2 2 0 0 0-2 2"/><path d="M14 10V9a2 2 0 0 0-2-2a2 2 0 0 0-2 2v1"/><path d="M10 9.5V4a2 2 0 0 0-2-2a2 2 0 0 0-2 2v10"/><path d="M18 11a2 2 0 1 1 4 0v3a8 8 0 0 1-8 8h-2c-2.8 0-4.5-.86-5.99-2.34l-3.6-3.6a2 2 0 0 1 2.83-2.82L7 15"/></svg>
<span class="t" style="top:972.5px;font-size:14.5px;line-height:19px;color:#1f2937;font-weight:700;letter-spacing:0.35px;right:2107.0px;">Text</span>
<div class="b" style="left:404px;top:973.0px;width:18px;height:18.0px;background:#e5e7eb;border-radius:2px;"></div>
<svg class="b" style="left:406.0px;top:975.0px;" width="14" height="14" viewBox="0 0 24 24" fill="none" stroke="#6b7280" stroke-width="2" stroke-linecap="round" stroke-linejoin="round"><path d="m6 9 6 6 6-6"/></svg>
<div class="b" style="left:63px;top:1000.7px;width:364px;height:1.0px;background:#e5e7eb;"></div>
<div class="b" style="left:71px;top:1007.2px;width:54.5px;height:25.5px;background:#f3f4f6;border-radius:4px;"></div>
<span class="t" style="top:1010.7px;font-size:14.5px;line-height:19px;color:#4b5563;font-weight:700;left:81.0px;">s</span>
<svg class="b" style="left:102.0px;top:1010.7px;" width="18" height="18" viewBox="0 0 24 24" fill="none" stroke="#4b5563" stroke-width="1.6" stroke-linecap="round" stroke-linejoin="round"><path d="M22 14a8 8 0 0 1-8 8"/><path d="M18 11v-1a2 2 0 0 0-2-2a2 2 0 0 0-2 2"/><path d="M14 10V9a2 2 0 0 0-2-2a2 2 0 0 0-2 2v1"/><path d="M10 9.5V4a2 2 0 0 0-2-2a2 2 0 0 0-2 2v10"/><path d="M18 11a2 2 0 1 1 4 0v3a8 8 0 0 1-8 8h-2c-2.8 0-4.5-.86-5.99-2.34l-3.6-3.6a2 2 0 0 1 2.83-2.82L7 15"/></svg>
<span class="t" style="top:1010.7px;font-size:14.5px;line-height:19px;color:#1f2937;font-weight:700;letter-spacing:0.35px;right:2107.0px;">HTML</span>
<div class="b" style="left:404px;top:1011.2px;width:18px;height:18.0px;background:#e5e7eb;border-radius:2px;"></div>
<svg class="b" style="left:406.0px;top:1013.2px;" width="14" height="14" viewBox="0 0 24 24" fill="none" stroke="#6b7280" stroke-width="2" stroke-linecap="round" stroke-linejoin="round"><path d="m6 9 6 6 6-6"/></svg>
<div class="b" style="left:63px;top:1038.4px;width:364px;height:1.0px;background:#e5e7eb;"></div>
<div class="b" style="left:71px;top:1044.9px;width:58px;height:25.5px;background:#f3f4f6;border-radius:4px;"></div>
<span class="t" style="top:1048.4px;font-size:14.5px;line-height:19px;color:#4b5563;font-weight:700;left:81.0px;">p</span>
<svg class="b" style="left:106.0px;top:1048.4px;" width="18" height="18" viewBox="0 0 24 24" fill="none" stroke="#4b5563" stroke-width="1.6" stroke-linecap="round" stroke-linejoin="round"><path d="M22 14a8 8 0 0 1-8 8"/><path d="M18 11v-1a2 2 0 0 0-2-2a2 2 0 0 0-2 2"/><path d="M14 10V9a2 2 0 0 0-2-2a2 2 0 0 0-2 2v1"/><path d="M10 9.5V4a2 2 0 0 0-2-2a2 2 0 0 0-2 2v10"/><path d="M18 11a2 2 0 1 1 4 0v3a8 8 0 0 1-8 8h-2c-2.8 0-4.5-.86-5.99-2.34l-3.6-3.6a2 2 0 0 1 2.83-2.82L7 15"/></svg>
<span class="t" style="top:1048.4px;font-size:14.5px;line-height:19px;color:#1f2937;font-weight:700;letter-spacing:0.35px;right:2107.0px;">Text</span>
<div class="b" style="left:404px;top:1048.9px;width:18px;height:18.0px;background:#e5e7eb;border-radius:2px;"></div>
<svg class="b" style="left:406.0px;top:1050.9px;" width="14" height="14" viewBox="0 0 24 24" fill="none" stroke="#6b7280" stroke-width="2" stroke-linecap="round" stroke-linejoin="round"><path d="m6 9 6 6 6-6"/></svg>
<div class="b" style="left:63px;top:1077.2px;width:364px;height:1.0px;background:#e5e7eb;"></div>
<div class="b" style="left:71px;top:1083.7px;width:58px;height:25.5px;background:#f3f4f6;border-radius:4px;"></div>
<span class="t" style="top:1087.2px;font-size:14.5px;line-height:19px;color:#4b5563;font-weight:700;left:81.0px;">q</span>
<svg class="b" style="left:106.0px;top:1087.2px;" width="18" height="18" viewBox="0 0 24 24" fill="none" stroke="#4b5563" stroke-width="1.6" stroke-linecap="round" stroke-linejoin="round"><path d="M22 14a8 8 0 0 1-8 8"/><path d="M18 11v-1a2 2 0 0 0-2-2a2 2 0 0 0-2 2"/><path d="M14 10V9a2 2 0 0 0-2-2a2 2 0 0 0-2 2v1"/><path d="M10 9.5V4a2 2 0 0 0-2-2a2 2 0 0 0-2 2v10"/><path d="M18 11a2 2 0 1 1 4 0v3a8 8 0 0 1-8 8h-2c-2.8 0-4.5-.86-5.99-2.34l-3.6-3.6a2 2 0 0 1 2.83-2.82L7 15"/></svg>
<span class="t" style="top:1087.2px;font-size:14.5px;line-height:19px;color:#1f2937;font-weight:700;letter-spacing:0.35px;right:2107.0px;">Submit form</span>
<div class="b" style="left:404px;top:1087.7px;width:18px;height:18.0px;background:#e5e7eb;border-radius:2px;"></div>
<svg class="b" style="left:406.0px;top:1089.7px;" width="14" height="14" viewBox="0 0 24 24" fill="none" stroke="#6b7280" stroke-width="2" stroke-linecap="round" stroke-linejoin="round"><path d="m6 9 6 6 6-6"/></svg>
<div class="b" style="left:63px;top:1115px;width:364px;height:1px;background:#e5e7eb;"></div>
<span class="t" style="top:1142.5px;font-size:16px;line-height:21px;color:#1f2937;font-weight:700;letter-spacing:-0.28px;left:73.0px;">Background runnables</span>
<div class="b" style="left:428px;top:45px;width:1532px;height:922px;background:#f3f4f6;"></div>
<div class="b" style="left:446px;top:45px;width:1485px;height:68.5px;background:#fbfcfd;"></div>
<span class="t" style="top:59.8px;font-size:30px;line-height:39px;color:#374151;font-weight:700;letter-spacing:-0.38px;left:466.0px;-webkit-text-stroke:0.7px #374151;">CRM connected to Gmail</span>
<div class="b" style="left:1052px;top:52px;width:199px;height:59px;background:#f1f7f3;border:2px solid #166534;"></div>
<div class="b" style="left:1064px;top:61px;width:80px;height:38px;background:#f9fafb;border:1px solid #d1d5db;border-radius:8px 0 0 8px;"></div>
<svg class="b" style="left:1081.0px;top:70.5px;" width="19" height="19" viewBox="0 0 24 24" fill="none" stroke="#374151" stroke-width="2" stroke-linecap="round" stroke-linejoin="round"><path d="M3 12a9 9 0 0 1 9-9 9.75 9.75 0 0 1 6.74 2.74L21 8"/><path d="M21 3v5h-5"/><path d="M21 12a9 9 0 0 1-9 9 9.75 9.75 0 0 1-6.74-2.74L3 16"/><path d="M8 16H3v5"/></svg>
<span class="t" style="top:68.5px;font-size:16px;line-height:21px;color:#374151;font-weight:700;letter-spacing:0.22px;left:1106.0px;">(2)</span>
<span class="t" style="top:68.5px;font-size:16px;line-height:21px;color:#374151;font-weight:700;letter-spacing:-0.11px;left:1156.0px;">once</span>
<svg class="b" style="left:1208.0px;top:69.0px;" width="22" height="22" viewBox="0 0 24 24" fill="none" stroke="#1f2937" stroke-width="2.4" stroke-linecap="round" stroke-linejoin="round"><path d="m6 9 6 6 6-6"/></svg>
<span class="t" style="top:69.5px;font-size:15px;line-height:20px;color:#4b5563;letter-spacing:0.19px;left:1493.0px;">Hide bar on view</span>
<div class="b" style="left:1614px;top:71px;width:36px;height:21px;background:#e5e7eb;border-radius:11px;"></div>
<div class="b" style="left:1616px;top:73px;width:17px;height:17px;background:#fff;border-radius:9px;"></div>
<span class="t" style="top:69.5px;font-size:15px;line-height:20px;color:#4b5563;letter-spacing:0.22px;left:1702.0px;">Author henri@windmill.dev</span>
<svg class="b" style="left:1892.0px;top:72.0px" width="16" height="16" viewBox="0 0 16 16"><circle cx="8" cy="8" r="8" fill="#6b7280"/><circle cx="8" cy="4.4" r="1.15" fill="#fff"/><path d="M6.4 7h2.4v4.4h1v1.2H6.2v-1.2h1V8.2h-.8z" fill="#fff"/></svg>
<div class="b" style="left:1931px;top:45px;width:12px;height:721px;background:#c4c4c4;"></div>
<div class="b" style="left:1959px;top:45px;width:2px;height:1318px;background:#d4d4d8;"></div>
<div class="b" style="left:466.5px;top:135.5px;width:1444.0px;height:831.5px;background:#f8f9fa;"></div>
<div class="b" style="left:466.5px;top:135px;width:1444.0px;height:1px;background:repeating-linear-gradient(to right,#a3a3a3 0 3px,transparent 3px 5px);"></div>
<div class="b" style="left:466.3px;top:135px;width:1.0px;height:832px;background:repeating-linear-gradient(to bottom,#a3a3a3 0 3px,transparent 3px 5px);"></div>
<div class="b" style="left:1910px;top:135px;width:1px;height:832px;background:repeating-linear-gradient(to bottom,#a3a3a3 0 3px,transparent 3px 5px);"></div>
<span class="t" style="top:132.5px;font-size:39.5px;line-height:51px;color:#1f2937;font-weight:700;letter-spacing:0.08px;left:473.0px;-webkit-text-stroke:0.8px #1f2937;">Customers</span>
<div class="b" style="left:1894px;top:170.2px;width:6px;height:6px;border-right:2px solid #6b7280;border-bottom:2px solid #6b7280;"></div>
<div class="b" style="left:472px;top:185px;width:1434px;height:43px;background:#fbfcfd;border:1px solid #3b82f6;"></div>
<span class="t" style="top:185.8px;font-size:22px;line-height:29px;color:#2179b5;letter-spacing:0.26px;left:473.0px;">Note: To fully use this app, fork it and customize the App inputs: https://docs.windmill.dev/docs/apps/toolbar#app-inputs-configuration</span>
<div class="b" style="left:462px;top:174.5px;width:28px;height:23.0px;background:#3b82f6;border-radius:2px;"></div>
<span class="t" style="top:176.5px;font-size:14px;line-height:18px;color:#fff;font-weight:700;left:472.5px;">f</span>
<div class="b" style="left:471.3px;top:231.7px;width:1435.0px;height:417.90000000000003px;background:#fff;border:2px solid #8b84d8;border-radius:2px;"></div>
<div class="b" style="left:473px;top:234px;width:1420px;height:67.30000000000001px;background:#f9fafb;"></div>
<div class="b" style="left:473px;top:301.3px;width:1420px;height:63.19999999999999px;background:#dbe7fd;"></div>
<div class="b" style="left:473px;top:301.3px;width:1420px;height:1.0px;background:#e3e9f6;"></div>
<div class="b" style="left:473px;top:364.5px;width:1420px;height:1.0px;background:#dfe8fb;"></div>
<div class="b" style="left:473px;top:427.7px;width:1420px;height:1.0px;background:#e8eaed;"></div>
<div class="b" style="left:473px;top:490.9px;width:1420px;height:1.0px;background:#e8eaed;"></div>
<div class="b" style="left:473px;top:554.1px;width:1420px;height:1.0px;background:#e8eaed;"></div>
<div class="b" style="left:534px;top:234px;width:1px;height:369.29999999999995px;background:#e8eaed;"></div>
<div class="b" style="left:534px;top:302px;width:1px;height:62.5px;background:#c9d9f5;"></div>
<div class="b" style="left:778px;top:234px;width:1px;height:369.29999999999995px;background:#e8eaed;"></div>
<div class="b" style="left:778px;top:302px;width:1px;height:62.5px;background:#c9d9f5;"></div>
<div class="b" style="left:966px;top:234px;width:1px;height:369.29999999999995px;background:#e8eaed;"></div>
<div class="b" style="left:966px;top:302px;width:1px;height:62.5px;background:#c9d9f5;"></div>
<div class="b" style="left:1081px;top:234px;width:1px;height:369.29999999999995px;background:#e8eaed;"></div>
<div class="b" style="left:1081px;top:302px;width:1px;height:62.5px;background:#c9d9f5;"></div>
<div class="b" style="left:1366px;top:234px;width:1px;height:369.29999999999995px;background:#e8eaed;"></div>
<div class="b" style="left:1366px;top:302px;width:1px;height:62.5px;background:#c9d9f5;"></div>
<div class="b" style="left:1635px;top:234px;width:1px;height:369.29999999999995px;background:#e8eaed;"></div>
<div class="b" style="left:1635px;top:302px;width:1px;height:62.5px;background:#c9d9f5;"></div>
<div class="b" style="left:1762px;top:234px;width:1px;height:369.29999999999995px;background:#e8eaed;"></div>
<div class="b" style="left:1762px;top:302px;width:1px;height:62.5px;background:#c9d9f5;"></div>
<span class="t" style="top:256.0px;font-size:18px;line-height:23px;color:#111827;font-weight:700;letter-spacing:0.01px;left:494.5px;">id</span>
<span class="t" style="top:256.0px;font-size:18px;line-height:23px;color:#111827;font-weight:700;letter-spacing:0.24px;left:556.0px;">email</span>
<span class="t" style="top:256.0px;font-size:18px;line-height:23px;color:#111827;font-weight:700;letter-spacing:0.50px;left:800.5px;">phone</span>
<span class="t" style="top:256.0px;font-size:18px;line-height:23px;color:#111827;font-weight:700;letter-spacing:0.50px;left:988.0px;">stage</span>
<span class="t" style="top:256.0px;font-size:18px;line-height:23px;color:#111827;font-weight:700;letter-spacing:0.33px;left:1102.0px;">company</span>
<span class="t" style="top:256.0px;font-size:18px;line-height:23px;color:#111827;font-weight:700;letter-spacing:0.33px;left:1388.0px;">jobTitle</span>
<span class="t" style="top:256.0px;font-size:18px;line-height:23px;color:#111827;font-weight:700;letter-spacing:0.42px;left:1656.5px;">lastName</span>
<span class="t" style="top:256.0px;font-size:18px;line-height:23px;color:#111827;font-weight:700;letter-spacing:0.50px;left:1785.0px;">firstName</span>
<span class="t" style="top:322.1px;font-size:16.5px;line-height:21px;color:#161e2e;letter-spacing:-1.18px;left:494.5px;">1</span>
<span class="t" style="top:322.1px;font-size:16.5px;line-height:21px;color:#161e2e;letter-spacing:-0.06px;left:556.0px;">atuny0@sohu.com</span>
<span class="t" style="top:322.1px;font-size:16.5px;line-height:21px;color:#161e2e;letter-spacing:-0.03px;left:800.5px;">+63 791 675 8914</span>
<span class="t" style="top:322.1px;font-size:16.5px;line-height:21px;color:#161e2e;letter-spacing:0.07px;left:988.0px;">Customer</span>
<span class="t" style="top:322.1px;font-size:16.5px;line-height:21px;color:#161e2e;letter-spacing:-0.07px;left:1102.0px;">Blanda-O'Keefe</span>
<span class="t" style="top:322.1px;font-size:16.5px;line-height:21px;color:#161e2e;letter-spacing:-0.05px;left:1388.0px;">Help Desk Operator</span>
<span class="t" style="top:322.1px;font-size:16.5px;line-height:21px;color:#161e2e;letter-spacing:0.32px;left:1656.5px;">Medhurst</span>
<span class="t" style="top:322.1px;font-size:16.5px;line-height:21px;color:#161e2e;letter-spacing:0.33px;left:1785.0px;">Terry</span>
<span class="t" style="top:385.3px;font-size:16.5px;line-height:21px;color:#161e2e;letter-spacing:-0.18px;left:494.5px;">2</span>
<span class="t" style="top:385.3px;font-size:16.5px;line-height:21px;color:#161e2e;letter-spacing:-0.15px;left:556.0px;">hbingley1@plala.or.jp</span>
<span class="t" style="top:385.3px;font-size:16.5px;line-height:21px;color:#161e2e;letter-spacing:-0.36px;left:800.5px;">+7 813 117 7139</span>
<span class="t" style="top:385.3px;font-size:16.5px;line-height:21px;color:#161e2e;letter-spacing:0.07px;left:988.0px;">Customer</span>
<span class="t" style="top:385.3px;font-size:16.5px;line-height:21px;color:#161e2e;letter-spacing:0.10px;left:1102.0px;">Aufderhar-Cronin</span>
<span class="t" style="top:385.3px;font-size:16.5px;line-height:21px;color:#161e2e;letter-spacing:0.12px;left:1388.0px;">Senior Cost Accountant</span>
<span class="t" style="top:385.3px;font-size:16.5px;line-height:21px;color:#161e2e;letter-spacing:0.01px;left:1656.5px;">Quigley</span>
<span class="t" style="top:385.3px;font-size:16.5px;line-height:21px;color:#161e2e;letter-spacing:-0.09px;left:1785.0px;">Sheldon</span>
<span class="t" style="top:448.5px;font-size:16.5px;line-height:21px;color:#161e2e;letter-spacing:-0.18px;left:494.5px;">3</span>
<span class="t" style="top:448.5px;font-size:16.5px;line-height:21px;color:#161e2e;letter-spacing:-0.41px;left:556.0px;">rshawe2@51.la</span>
<span class="t" style="top:448.5px;font-size:16.5px;line-height:21px;color:#161e2e;letter-spacing:0.23px;left:800.5px;">+63 739 292 7942</span>
<span class="t" style="top:448.5px;font-size:16.5px;line-height:21px;color:#161e2e;letter-spacing:0.07px;left:988.0px;">Customer</span>
<span class="t" style="top:448.5px;font-size:16.5px;line-height:21px;color:#161e2e;letter-spacing:-0.19px;left:1102.0px;">Lindgren LLC</span>
<span class="t" style="top:448.5px;font-size:16.5px;line-height:21px;color:#161e2e;letter-spacing:-0.04px;left:1388.0px;">Mechanical Systems Engineer</span>
<span class="t" style="top:448.5px;font-size:16.5px;line-height:21px;color:#161e2e;letter-spacing:-0.04px;left:1656.5px;">Hills</span>
<span class="t" style="top:448.5px;font-size:16.5px;line-height:21px;color:#161e2e;letter-spacing:0.26px;left:1785.0px;">Terrill</span>
<span class="t" style="top:511.7px;font-size:16.5px;line-height:21px;color:#161e2e;letter-spacing:-0.18px;left:494.5px;">4</span>
<span class="t" style="top:511.7px;font-size:16.5px;line-height:21px;color:#161e2e;letter-spacing:0.08px;left:556.0px;">yraigatt3@nature.com</span>
<span class="t" style="top:511.7px;font-size:16.5px;line-height:21px;color:#161e2e;letter-spacing:-0.03px;left:800.5px;">+86 461 145 4186</span>
<span class="t" style="top:511.7px;font-size:16.5px;line-height:21px;color:#161e2e;letter-spacing:0.07px;left:988.0px;">Customer</span>
<span class="t" style="top:511.7px;font-size:16.5px;line-height:21px;color:#161e2e;letter-spacing:-0.02px;left:1102.0px;">Wolff and Sons</span>
<span class="t" style="top:511.7px;font-size:16.5px;line-height:21px;color:#161e2e;letter-spacing:-0.21px;left:1388.0px;">Paralegal</span>
<span class="t" style="top:511.7px;font-size:16.5px;line-height:21px;color:#161e2e;letter-spacing:-0.02px;left:1656.5px;">Cummerata</span>
<span class="t" style="top:511.7px;font-size:16.5px;line-height:21px;color:#161e2e;letter-spacing:-0.13px;left:1785.0px;">Miles</span>
<span class="t" style="top:574.9px;font-size:16.5px;line-height:21px;color:#161e2e;letter-spacing:-0.18px;left:494.5px;">5</span>
<span class="t" style="top:574.9px;font-size:16.5px;line-height:21px;color:#161e2e;letter-spacing:-0.10px;left:556.0px;">kmeus4@upenn.edu</span>
<span class="t" style="top:574.9px;font-size:16.5px;line-height:21px;color:#161e2e;letter-spacing:-0.28px;left:800.5px;">+372 285 771 1911</span>
<span class="t" style="top:574.9px;font-size:16.5px;line-height:21px;color:#161e2e;letter-spacing:0.07px;left:988.0px;">Customer</span>
<span class="t" style="top:574.9px;font-size:16.5px;line-height:21px;color:#161e2e;letter-spacing:-0.12px;left:1102.0px;">Adams Inc</span>
<span class="t" style="top:574.9px;font-size:16.5px;line-height:21px;color:#161e2e;letter-spacing:-0.18px;left:1388.0px;">Web Developer I</span>
<span class="t" style="top:574.9px;font-size:16.5px;line-height:21px;color:#161e2e;letter-spacing:0.15px;left:1656.5px;">Schultz</span>
<span class="t" style="top:574.9px;font-size:16.5px;line-height:21px;color:#161e2e;letter-spacing:-0.02px;left:1785.0px;">Mavis</span>
<div class="b" style="left:473px;top:603.3px;width:1432px;height:45.700000000000045px;background:#f7f8fa;border-top:1px solid #e5e7eb;"></div>
<div class="b" style="left:484px;top:610px;width:105px;height:32px;background:#d4d4d4;border-radius:7px;"></div>
<svg class="b" style="left:491.0px;top:618.5px;" width="15" height="15" viewBox="0 0 24 24" fill="none" stroke="#52525b" stroke-width="2.4" stroke-linecap="round" stroke-linejoin="round"><path d="m15 18-6-6 6-6"/></svg>
<span class="t" style="top:615.5px;font-size:16px;line-height:21px;color:#52525b;font-weight:700;letter-spacing:-0.37px;left:508.0px;">Previous</span>
<div class="b" style="left:600px;top:610px;width:76px;height:32px;background:#fff;border:1px solid #d1d5db;border-radius:7px;"></div>
<span class="t" style="top:615.5px;font-size:16px;line-height:21px;color:#374151;font-weight:700;letter-spacing:0.11px;left:616.5px;">Next</span>
<svg class="b" style="left:653.0px;top:618.5px;" width="15" height="15" viewBox="0 0 24 24" fill="none" stroke="#374151" stroke-width="2.4" stroke-linecap="round" stroke-linejoin="round"><path d="m9 18 6-6-6-6"/></svg>
<span class="t" style="top:615.5px;font-size:16.5px;line-height:21px;color:#1f2937;letter-spacing:-0.26px;left:687.0px;">1 of 2</span>
<div class="b" style="left:1766px;top:610px;width:127px;height:32px;background:#fff;border:1px solid #d1d5db;border-radius:7px;"></div>
<svg class="b" style="left:1781px;top:618px" width="15" height="15" viewBox="0 0 16 16" fill="none" stroke="#374151" stroke-width="1.800" stroke-linecap="round" stroke-linejoin="round"><path d="M8 1.500v8.500"/><path d="M4.500 6.500 8 10l3.500-3.500"/><path d="M1.500 11.500h13v3h-13z" fill="#374151"/></svg>
<span class="t" style="top:615.5px;font-size:16px;line-height:21px;color:#374151;font-weight:700;letter-spacing:-0.20px;left:1801.5px;">Download</span>
<div class="b" style="left:1894px;top:638.0px;width:6px;height:6px;border-right:2px solid #6b7280;border-bottom:2px solid #6b7280;"></div>
<div class="b" style="left:1893px;top:234px;width:12px;height:370px;background:#fafafa;"></div>
<div class="b" style="left:1893px;top:247px;width:11px;height:82px;background:#c8c8c8;"></div>
<div class="b" style="left:1866px;top:243px;width:33px;height:27px;background:#fafafa;border-radius:5px;box-shadow:0 1px 2px rgba(0,0,0,.10);"></div>
<svg class="b" style="left:1873.5px;top:245.0px;" width="19" height="19" viewBox="0 0 24 24" fill="none" stroke="#111827" stroke-width="2.2" stroke-linecap="round" stroke-linejoin="round"><path d="M3 12a9 9 0 0 1 9-9 9.75 9.75 0 0 1 6.74 2.74L21 8"/><path d="M21 3v5h-5"/><path d="M21 12a9 9 0 0 1-9 9 9.75 9.75 0 0 1-6.74-2.74L3 16"/><path d="M8 16H3v5"/></svg>
<div class="b" style="left:462px;top:221.5px;width:30px;height:23.0px;background:#6a67e8;border-radius:2px;"></div>
<span class="t" style="top:223.0px;font-size:14px;line-height:18px;color:#fff;font-weight:700;left:472.5px;">a</span>
<div class="b" style="left:1808px;top:221px;width:31px;height:26px;background:#e0e3fb;border:1px solid #a5b4fc;border-radius:3px;"></div>
<svg class="b" style="left:1815.0px;top:225.5px;" width="17" height="17" viewBox="0 0 24 24" fill="none" stroke="#4f46e5" stroke-width="2" stroke-linecap="round" stroke-linejoin="round"><path d="m21 21-6-6m6 6v-4.8m0 4.8h-4.8"/><path d="M3 16.2V21m0 0h4.8M3 21l6-6"/><path d="M21 7.8V3m0 0h-4.8M21 3l-6 6"/><path d="M3 7.8V3m0 0h4.8M3 3l6 6"/></svg>
<div class="b" style="left:1846px;top:221px;width:31px;height:26px;background:#e0e3fb;border:1px solid #a5b4fc;border-radius:3px;"></div>
<svg class="b" style="left:1853.0px;top:225.5px;" width="17" height="17" viewBox="0 0 24 24" fill="none" stroke="#4f46e5" stroke-width="2" stroke-linecap="round" stroke-linejoin="round"><circle cx="12" cy="5" r="3"/><line x1="12" x2="12" y1="22" y2="8"/><path d="M5 12H2a10 10 0 0 0 20 0h-3"/></svg>
<div class="b" style="left:1884px;top:221px;width:31px;height:26px;background:#e0e3fb;border:1px solid #a5b4fc;border-radius:3px;"></div>
<svg class="b" style="left:1891.0px;top:225.5px;" width="17" height="17" viewBox="0 0 24 24" fill="none" stroke="#4f46e5" stroke-width="2" stroke-linecap="round" stroke-linejoin="round"><polyline points="5 9 2 12 5 15"/><polyline points="9 5 12 2 15 5"/><polyline points="15 19 12 22 9 19"/><polyline points="19 9 22 12 19 15"/><line x1="2" x2="22" y1="12" y2="12"/><line x1="12" x2="12" y1="2" y2="22"/></svg>
<span class="t" style="top:706.5px;font-size:27px;line-height:35px;color:#4b5563;font-weight:700;letter-spacing:0.19px;left:472.0px;-webkit-text-stroke:0.5px #4b5563;">Terry Medhurst</span>
<div class="b" style="left:1174px;top:732.5px;width:6px;height:6px;border-right:2px solid #6b7280;border-bottom:2px solid #6b7280;"></div>
<span class="t" style="top:754.0px;font-size:19px;line-height:25px;color:#1f2937;font-weight:700;letter-spacing:-0.97px;left:472.0px;">Email</span>
<div class="b" style="left:572px;top:779.5px;width:6px;height:6px;border-right:2px solid #6b7280;border-bottom:2px solid #6b7280;"></div>
<div class="b" style="left:1174px;top:779.5px;width:6px;height:6px;border-right:2px solid #6b7280;border-bottom:2px solid #6b7280;"></div>
<span class="t" style="top:750.0px;font-size:21.5px;line-height:28px;color:#111827;letter-spacing:-0.33px;left:592.5px;">atuny0@sohu.com</span>
<span class="t" style="top:801.0px;font-size:19px;line-height:25px;color:#1f2937;font-weight:700;letter-spacing:-0.76px;left:472.0px;">Phone</span>
<div class="b" style="left:572px;top:826.5px;width:6px;height:6px;border-right:2px solid #6b7280;border-bottom:2px solid #6b7280;"></div>
<div class="b" style="left:1174px;top:826.5px;width:6px;height:6px;border-right:2px solid #6b7280;border-bottom:2px solid #6b7280;"></div>
<span class="t" style="top:796.5px;font-size:21.5px;line-height:28px;color:#111827;letter-spacing:-0.20px;left:592.5px;">+63 791 675 8914</span>
<span class="t" style="top:894.0px;font-size:27px;line-height:35px;color:#4b5563;font-weight:700;letter-spacing:-0.36px;left:472.0px;-webkit-text-stroke:0.5px #4b5563;">Send Email to Terry</span>
<div class="b" style="left:1174px;top:919.5px;width:6px;height:6px;border-right:2px solid #6b7280;border-bottom:2px solid #6b7280;"></div>
<span class="t" style="top:936.0px;font-size:21px;line-height:27px;color:#111827;font-weight:700;letter-spacing:0.22px;left:483.0px;">Message</span>
<span class="t" style="top:933.5px;font-size:22px;line-height:29px;color:#dc2626;font-weight:700;left:574.5px;">*</span>
<span class="t" style="top:937.0px;font-size:19.5px;line-height:25px;color:#3730a3;font-style:italic;letter-spacing:0.05px;left:590.5px;">(string)</span>
<div class="b" style="left:1868px;top:661px;width:30px;height:30px;background:#fbfbfb;border-radius:5px;"></div>
<svg class="b" style="left:1872.5px;top:665.5px;" width="20" height="20" viewBox="0 0 24 24" fill="none" stroke="#111827" stroke-width="2" stroke-linecap="round" stroke-linejoin="round"><path d="M3 12a9 9 0 0 1 9-9 9.75 9.75 0 0 1 6.74 2.74L21 8"/><path d="M21 3v5h-5"/><path d="M21 12a9 9 0 0 1-9 9 9.75 9.75 0 0 1-6.74-2.74L3 16"/><path d="M8 16H3v5"/></svg>
<div class="b" style="left:1433px;top:668px;width:49px;height:13px;background:#ff6384;"></div>
<span class="t" style="top:664.0px;font-size:16px;line-height:21px;color:#666;letter-spacing:-0.53px;left:1491.0px;">Lead</span>
<div class="b" style="left:1540px;top:668px;width:49px;height:13px;background:#4bc0c0;"></div>
<span class="t" style="top:664.0px;font-size:16px;line-height:21px;color:#666;letter-spacing:-0.19px;left:1598.5px;">Customer</span>
<svg class="b" style="left:1280px;top:690px" width="540" height="277" viewBox="1280 690 540 277"><circle cx="1549" cy="953" r="255" fill="#4bc0c0"/><path d="M1549 953 L1549 698 A255 255 0 0 1 1695.3 1161.9 Z" fill="#ff6384"/><path d="M1549 698 L1549 953 L1695.3 1161.9" fill="none" stroke="#fff" stroke-width="3" stroke-linejoin="round"/></svg>
<div class="b" style="left:428px;top:966px;width:1532px;height:397px;background:#fff;border-top:1px solid #e0e2e6;"></div>
<div class="b" style="left:811px;top:967px;width:1px;height:396px;background:#e5e7eb;"></div>
<span class="t" style="top:983.5px;font-size:18.5px;line-height:24px;color:#1f2937;font-weight:700;letter-spacing:-0.45px;left:444.0px;">Runnables</span>
<div class="b" style="left:444px;top:1025px;width:352px;height:43px;background:#dbe4fd;border:1.500px solid #4f8af0;border-radius:3px;"></div>
<span class="t" style="top:1036.0px;font-size:15.5px;line-height:20px;color:#1f2937;letter-spacing:-0.18px;left:455.5px;">Get Customers</span>
<span class="t" style="top:1037.0px;font-size:15px;line-height:20px;color:#3730a3;font-weight:700;left:762.0px;">a</span>
<div class="b" style="left:444px;top:1074px;width:352px;height:42px;background:#fff;border:1px solid #e5e7eb;border-radius:3px;"></div>
<span class="t" style="top:1085.0px;font-size:15.5px;line-height:20px;color:#1f2937;letter-spacing:-0.13px;left:455.5px;">Pie Chart Data</span>
<div class="b" style="left:752px;top:1084px;width:32px;height:25px;background:#e0e7ff;border-radius:5px;"></div>
<span class="t" style="top:1086.0px;font-size:15px;line-height:20px;color:#3730a3;font-weight:700;left:765.5px;">t</span>
<div class="b" style="left:444px;top:1127px;width:352px;height:37px;background:#fff;border:1px solid #e5e7eb;border-radius:3px;"></div>
<span class="t" style="top:1136.0px;font-size:15.5px;line-height:20px;color:#1f2937;letter-spacing:-0.04px;left:455.5px;">hub/338/gmail/_send_email</span>
<div class="b" style="left:748px;top:1134px;width:36px;height:24px;background:#e0e7ff;border-radius:5px;"></div>
<span class="t" style="top:1135.0px;font-size:15px;line-height:20px;color:#3730a3;font-weight:700;left:761.5px;">q</span>
<span class="t" style="top:1199.5px;font-size:16px;line-height:21px;color:#374151;font-weight:700;letter-spacing:-0.28px;left:444.0px;">Background runnables</span>
<svg class="b" style="left:620.0px;top:1202.0px" width="16" height="16" viewBox="0 0 16 16"><circle cx="8" cy="8" r="8" fill="#6b7280"/><circle cx="8" cy="4.4" r="1.15" fill="#fff"/><path d="M6.4 7h2.4v4.4h1v1.2H6.2v-1.2h1V8.2h-.8z" fill="#fff"/></svg>
<div class="b" style="left:765px;top:1196px;width:31px;height:31px;background:#fff;border:1px solid #d1d5db;border-radius:16px;"></div>
<svg class="b" style="left:772.0px;top:1203.0px;" width="17" height="17" viewBox="0 0 24 24" fill="none" stroke="#6b7280" stroke-width="1.6" stroke-linecap="round" stroke-linejoin="round"><path d="M5 12h14"/><path d="M12 5v14"/></svg>
<span class="t" style="top:1231.5px;font-size:16px;line-height:21px;color:#6b7280;letter-spacing:0.25px;left:444.0px;">No background runnable</span>
<div class="b" style="left:822px;top:976px;width:565px;height:33px;background:#fff;border:1px solid #d1d5db;border-radius:8px;"></div>
<span class="t" style="top:982.0px;font-size:16px;line-height:21px;color:#1f2937;letter-spacing:0.16px;left:834.0px;">Get Customers</span>
<div class="b" style="left:1456px;top:980px;width:61px;height:25px;background:#dcfce7;border-radius:4px;"></div>
<span class="t" style="top:982.5px;font-size:15px;line-height:20px;color:#166534;font-weight:700;letter-spacing:-0.38px;left:1469.5px;">Valid</span>
<div class="b" style="left:1527px;top:975px;width:39px;height:36px;background:#fdd8d8;border-radius:8px;"></div>
<svg class="b" style="left:1537.5px;top:983.5px;" width="18" height="18" viewBox="0 0 24 24" fill="none" stroke="#b91c1c" stroke-width="2" stroke-linecap="round" stroke-linejoin="round"><path d="M3 6h18"/><path d="M19 6v14c0 1-1 2-2 2H7c-1 0-2-1-2-2V6"/><path d="M8 6V4c0-1 1-2 2-2h4c1 0 2 1 2 2v2"/><line x1="10" x2="10" y1="11" y2="17"/><line x1="14" x2="14" y1="11" y2="17"/></svg>
<div class="b" style="left:1576px;top:973px;width:118px;height:39px;background:#f3f4f6;border-radius:8px;"></div>
<span class="t" style="top:982.5px;font-size:15.5px;line-height:20px;color:#374151;font-weight:700;letter-spacing:-0.26px;left:1587.0px;">Full Editor</span>
<svg class="b" style="left:1666.5px;top:984.0px;" width="17" height="17" viewBox="0 0 24 24" fill="none" stroke="#374151" stroke-width="2" stroke-linecap="round" stroke-linejoin="round"><polyline points="15 3 21 3 21 9"/><polyline points="9 21 3 21 3 15"/><line x1="21" x2="14" y1="3" y2="10"/><line x1="3" x2="10" y1="21" y2="14"/></svg>
<div class="b" style="left:1705px;top:976px;width:125px;height:33px;background:#fff;border:1px solid #d1d5db;border-radius:8px;"></div>
<span class="t" style="top:982.5px;font-size:15.5px;line-height:20px;color:#374151;font-weight:700;letter-spacing:-0.01px;left:1716.5px;">Format</span>
<div class="b" style="left:1776px;top:983px;width:20px;height:20px;background:#fff;border:1px solid #e5e7eb;border-radius:4px;"></div>
<span class="t" style="top:985.5px;font-size:11px;line-height:14px;color:#4b5563;left:1781.5px;font-family:'DejaVu Sans',sans-serif;">⌘</span>
<div class="b" style="left:1800px;top:983px;width:19px;height:20px;background:#fff;border:1px solid #e5e7eb;border-radius:4px;"></div>
<span class="t" style="top:984.5px;font-size:13px;line-height:17px;color:#4b5563;font-family:'Liberation Mono',monospace;left:1805.5px;">S</span>
<div class="b" style="left:1840px;top:976px;width:109px;height:33px;background:#334155;border-radius:8px;"></div>
<span class="t" style="top:982.5px;font-size:15.5px;line-height:20px;color:#fff;font-weight:700;letter-spacing:-0.81px;left:1852.0px;">Run</span>
<div class="b" style="left:1889px;top:983px;width:20px;height:20px;background:#b8bec8;border-radius:4px;"></div>
<span class="t" style="top:985.5px;font-size:11px;line-height:14px;color:#4b5563;left:1894.5px;font-family:'DejaVu Sans',sans-serif;">⌘</span>
<div class="b" style="left:1912px;top:983px;width:26px;height:20px;background:#b8bec8;border-radius:4px;"></div>
<svg class="b" style="left:1917.5px;top:985.5px;" width="15" height="15" viewBox="0 0 24 24" fill="none" stroke="#4b5563" stroke-width="2.2" stroke-linecap="round" stroke-linejoin="round"><polyline points="9 10 4 15 9 20"/><path d="M20 4v7a4 4 0 0 1-4 4H4"/></svg>
<div class="b" style="left:812px;top:1012px;width:1147px;height:6px;background:linear-gradient(to bottom,rgba(0,0,0,0),rgba(0,0,0,.05));"></div>
<div class="b" style="left:812px;top:1017px;width:1148px;height:1px;background:#e5e7eb;"></div>
<div class="b" style="left:851px;top:1020px;width:1107px;height:21px;background:#fff;border:1.500px solid #eeeeee;"></div>
<div class="b" style="left:1940px;top:1018px;width:1px;height:345px;background:#e5e7eb;"></div>
<div class="b" style="left:851px;top:1042px;width:1px;height:304px;background:#d9d9d9;"></div>
<div class="b" style="left:870px;top:1112px;width:1px;height:188px;background:#d9d9d9;"></div>
<span class="t" style="right:1669px;top:1020.4px;line-height:22px;font-size:15.560px;font-family:'DejaVu Sans Mono','Liberation Mono',monospace;color:#0b216f">1</span>
<span class="t" style="left:851px;top:1020.4px;line-height:22px;font-size:15.560px;font-family:'DejaVu Sans Mono','Liberation Mono',monospace;white-space:pre;color:#000"><span style="color:#0000ff">export async function</span><span style="color:#000000"> main</span><span style="color:#0431fa">()</span> <span style="color:#0431fa">{</span></span>
<span class="t" style="right:1669px;top:1043.8px;line-height:22px;font-size:15.560px;font-family:'DejaVu Sans Mono','Liberation Mono',monospace;color:#7d848b">2</span>
<span class="t" style="left:851px;top:1043.8px;line-height:22px;font-size:15.560px;font-family:'DejaVu Sans Mono','Liberation Mono',monospace;white-space:pre;color:#000">  <span style="color:#0000ff">const</span><span style="color:#000000"> res = </span><span style="color:#0000ff">await</span><span style="color:#000000"> fetch</span><span style="color:#319331">(</span><span style="color:#a31515">"</span><span style="color:#a31515;text-decoration:underline">https://dummyjson.com/users</span><span style="color:#a31515">"</span><span style="color:#319331">)</span><span style="color:#000000">;</span></span>
<span class="t" style="right:1669px;top:1067.2px;line-height:22px;font-size:15.560px;font-family:'DejaVu Sans Mono','Liberation Mono',monospace;color:#7d848b">3</span>
<span class="t" style="left:851px;top:1067.2px;line-height:22px;font-size:15.560px;font-family:'DejaVu Sans Mono','Liberation Mono',monospace;white-space:pre;color:#000">  <span style="color:#0000ff">const</span><span style="color:#000000"> json = </span><span style="color:#0000ff">await</span><span style="color:#000000"> res.json</span><span style="color:#319331">()</span><span style="color:#000000">;</span></span>
<span class="t" style="right:1669px;top:1090.5px;line-height:22px;font-size:15.560px;font-family:'DejaVu Sans Mono','Liberation Mono',monospace;color:#7d848b">4</span>
<span class="t" style="left:851px;top:1090.5px;line-height:22px;font-size:15.560px;font-family:'DejaVu Sans Mono','Liberation Mono',monospace;white-space:pre;color:#000">  <span style="color:#0000ff">const</span><span style="color:#000000"> users = json.users.map</span><span style="color:#319331">(</span><span style="color:#7b3814">(</span><span style="color:#000000">u: </span><span style="color:#0000ff">any</span><span style="color:#7b3814">)</span><span style="color:#000000"> =&gt; </span><span style="color:#7b3814">(</span><span style="color:#0431fa">{</span></span>
<span class="t" style="right:1669px;top:1113.9px;line-height:22px;font-size:15.560px;font-family:'DejaVu Sans Mono','Liberation Mono',monospace;color:#7d848b">5</span>
<span class="t" style="left:851px;top:1113.9px;line-height:22px;font-size:15.560px;font-family:'DejaVu Sans Mono','Liberation Mono',monospace;white-space:pre;color:#000">    <span style="color:#000000">id: u.id,</span></span>
<span class="t" style="right:1669px;top:1137.3px;line-height:22px;font-size:15.560px;font-family:'DejaVu Sans Mono','Liberation Mono',monospace;color:#7d848b">6</span>
<span class="t" style="left:851px;top:1137.3px;line-height:22px;font-size:15.560px;font-family:'DejaVu Sans Mono','Liberation Mono',monospace;white-space:pre;color:#000">    <span style="color:#000000">email: u.email,</span></span>
<span class="t" style="right:1669px;top:1160.7px;line-height:22px;font-size:15.560px;font-family:'DejaVu Sans Mono','Liberation Mono',monospace;color:#7d848b">7</span>
<span class="t" style="left:851px;top:1160.7px;line-height:22px;font-size:15.560px;font-family:'DejaVu Sans Mono','Liberation Mono',monospace;white-space:pre;color:#000">    <span style="color:#000000">lastName: u.lastName,</span></span>
<span class="t" style="right:1669px;top:1184.1px;line-height:22px;font-size:15.560px;font-family:'DejaVu Sans Mono','Liberation Mono',monospace;color:#7d848b">8</span>
<span class="t" style="left:851px;top:1184.1px;line-height:22px;font-size:15.560px;font-family:'DejaVu Sans Mono','Liberation Mono',monospace;white-space:pre;color:#000">    <span style="color:#000000">firstName: u.firstName,</span></span>
<span class="t" style="right:1669px;top:1207.4px;line-height:22px;font-size:15.560px;font-family:'DejaVu Sans Mono','Liberation Mono',monospace;color:#7d848b">9</span>
<span class="t" style="left:851px;top:1207.4px;line-height:22px;font-size:15.560px;font-family:'DejaVu Sans Mono','Liberation Mono',monospace;white-space:pre;color:#000">    <span style="color:#000000">phone: u.phone,</span></span>
<span class="t" style="right:1669px;top:1230.8px;line-height:22px;font-size:15.560px;font-family:'DejaVu Sans Mono','Liberation Mono',monospace;color:#7d848b">10</span>
<span class="t" style="left:851px;top:1230.8px;line-height:22px;font-size:15.560px;font-family:'DejaVu Sans Mono','Liberation Mono',monospace;white-space:pre;color:#000">    <span style="color:#000000">jobTitle: u.company.title,</span></span>
<span class="t" style="right:1669px;top:1254.2px;line-height:22px;font-size:15.560px;font-family:'DejaVu Sans Mono','Liberation Mono',monospace;color:#7d848b">11</span>
<span class="t" style="left:851px;top:1254.2px;line-height:22px;font-size:15.560px;font-family:'DejaVu Sans Mono','Liberation Mono',monospace;white-space:pre;color:#000">    <span style="color:#000000">company: u.company.name,</span></span>
<span class="t" style="right:1669px;top:1277.6px;line-height:22px;font-size:15.560px;font-family:'DejaVu Sans Mono','Liberation Mono',monospace;color:#7d848b">12</span>
<span class="t" style="left:851px;top:1277.6px;line-height:22px;font-size:15.560px;font-family:'DejaVu Sans Mono','Liberation Mono',monospace;white-space:pre;color:#000">    <span style="color:#000000">stage: </span><span style="color:#267f99">Math</span><span style="color:#000000">.random</span><span style="color:#319331">()</span><span style="color:#000000"> &gt; </span><span style="color:#098658">0.5</span><span style="color:#000000"> ? </span><span style="color:#a31515">"Lead"</span><span style="color:#000000"> : </span><span style="color:#a31515">"Customer"</span><span style="color:#000000">,</span></span>
<span class="t" style="right:1669px;top:1301.0px;line-height:22px;font-size:15.560px;font-family:'DejaVu Sans Mono','Liberation Mono',monospace;color:#7d848b">13</span>
<span class="t" style="left:851px;top:1301.0px;line-height:22px;font-size:15.560px;font-family:'DejaVu Sans Mono','Liberation Mono',monospace;white-space:pre;color:#000">  <span style="color:#0431fa">}</span><span style="color:#7b3814">)</span><span style="color:#319331">)</span><span style="color:#000000">;</span></span>
<span class="t" style="right:1669px;top:1324.3px;line-height:22px;font-size:15.560px;font-family:'DejaVu Sans Mono','Liberation Mono',monospace;color:#7d848b">14</span>
<span class="t" style="left:851px;top:1324.3px;line-height:22px;font-size:15.560px;font-family:'DejaVu Sans Mono','Liberation Mono',monospace;white-space:pre;color:#000">  <span style="color:#0000ff">return</span><span style="color:#000000"> users;</span></span>
<span class="t" style="right:1669px;top:1347.7px;line-height:22px;font-size:15.560px;font-family:'DejaVu Sans Mono','Liberation Mono',monospace;color:#7d848b">15</span>
<span class="t" style="left:851px;top:1347.7px;line-height:22px;font-size:15.560px;font-family:'DejaVu Sans Mono','Liberation Mono',monospace;white-space:pre;color:#000"><span style="color:#0431fa">}</span></span>
<svg class="b" style="left:855px;top:1042px" width="13" height="18" viewBox="0 0 13 18"><path d="M6.500 0.500a5.500 5.500 0 0 0-3.400 9.800c.5.500.9 1.200.9 1.900h5c0-.7.4-1.400.9-1.900A5.500 5.500 0 0 0 6.500.5z" fill="#ddb100"/><rect x="4.200" y="13" width="4.600" height="3.600" rx="1" fill="#ddb100"/></svg>
<div class="b" style="left:812px;top:1361px;width:1147px;height:2px;background:#e2e2e2;"></div>
<div class="b" style="left:1961px;top:45px;width:539px;height:1318px;background:#fff;"></div>
<svg class="b" style="left:1987.5px;top:60.0px;" width="22" height="22" viewBox="0 0 24 24" fill="none" stroke="#4b5563" stroke-width="1.6" stroke-linecap="round" stroke-linejoin="round"><path d="M5 12h14"/><path d="M12 5v14"/></svg>
<svg class="b" style="left:2062.5px;top:59.5px;" width="23" height="23" viewBox="0 0 24 24" fill="none" stroke="#1f2937" stroke-width="1.8" stroke-linecap="round" stroke-linejoin="round"><path d="M5.5 8.5 9 12l-3.5 3.5L2 12l3.5-3.5Z"/><path d="m12 2 3.5 3.5L12 9 8.5 5.5 12 2Z"/><path d="M18.5 8.5 22 12l-3.5 3.5L15 12l3.5-3.5Z"/><path d="m12 15 3.5 3.5L12 22l-3.5-3.5L12 15Z"/></svg>
<svg class="b" style="left:2138.0px;top:59.5px;transform:rotate(225deg);" width="23" height="23" viewBox="0 0 24 24" fill="none" stroke="#374151" stroke-width="1.8" stroke-linecap="round" stroke-linejoin="round"><path d="M14 19.9V16h3a2 2 0 0 0 2-2v-2H5v2c0 1.1.9 2 2 2h3v3.9a2 2 0 1 0 4 0Z"/><path d="M6 12V2h12v10"/><path d="M14 2v4"/><path d="M10 2v2"/></svg>
<div class="b" style="left:1961px;top:99px;width:539px;height:1px;background:#e7e9ed;"></div>
<div class="b" style="left:2036px;top:96px;width:76px;height:3px;background:#374151;"></div>
<span class="t" style="top:116.5px;font-size:18.5px;line-height:24px;color:#1f2937;font-weight:700;letter-spacing:-0.09px;left:1977.0px;">Data source</span>
<div class="b" style="left:2451px;top:115.5px;width:29px;height:26.5px;background:#5b57e6;border-radius:2px;"></div>
<span class="t" style="top:119.0px;font-size:14px;line-height:18px;color:#fff;font-weight:700;left:2461.5px;">a</span>
<div class="b" style="left:1977px;top:153px;width:323px;height:40px;background:#f3f4f6;border-radius:8px;"></div>
<svg class="b" style="left:1989.5px;top:165.0px;" width="17" height="17" viewBox="0 0 24 24" fill="none" stroke="#9ca3af" stroke-width="1.8" stroke-linecap="round" stroke-linejoin="round"><path d="M17 3a2.85 2.83 0 1 1 4 4L7.5 20.5 2 22l1.5-5.5Z"/></svg>
<span class="t" style="top:162.5px;font-size:16px;line-height:21px;color:#4b5563;font-weight:700;letter-spacing:-0.21px;left:2013.5px;">Static</span>
<svg class="b" style="left:2083.5px;top:165.0px;" width="17" height="17" viewBox="0 0 24 24" fill="none" stroke="#9ca3af" stroke-width="1.8" stroke-linecap="round" stroke-linejoin="round"><path d="M12 22v-5"/><path d="M9 8V2"/><path d="M15 8V2"/><path d="M18 8v5a4 4 0 0 1-4 4h-4a4 4 0 0 1-4-4V8Z"/></svg>
<span class="t" style="top:162.5px;font-size:16px;line-height:21px;color:#4b5563;font-weight:700;letter-spacing:-0.08px;left:2106.5px;">Connect</span>
<div class="b" style="left:2187px;top:155px;width:113px;height:37px;background:#fff;border-radius:8px;box-shadow:0 2px 6px rgba(0,0,0,.15);"></div>
<svg class="b" style="left:2196.5px;top:164.5px;" width="18" height="18" viewBox="0 0 24 24" fill="none" stroke="#3b82f6" stroke-width="1.8" stroke-linecap="round" stroke-linejoin="round"><rect width="18" height="18" x="3" y="3" rx="2" ry="2"/><path d="M9 17c2 0 2.8-1 2.8-2.8V10c0-2 1-3.3 3.2-3"/><path d="M9 11.2h5.7"/></svg>
<span class="t" style="top:162.5px;font-size:16px;line-height:21px;color:#1f2937;font-weight:700;letter-spacing:-0.22px;left:2220.5px;">Compute</span>
<div class="b" style="left:1977px;top:215px;width:504px;height:342px;background:#fff;border:1px solid #e7e9ed;"></div>
<div class="b" style="left:1978px;top:216px;width:502px;height:49px;background:#f6f8fb;"></div>
<div class="b" style="left:1978px;top:265px;width:502px;height:1px;background:#e7e9ed;"></div>
<svg class="b" style="left:1988.5px;top:230.5px;" width="19" height="19" viewBox="0 0 24 24" fill="none" stroke="#3b82f6" stroke-width="1.8" stroke-linecap="round" stroke-linejoin="round"><rect width="18" height="18" x="3" y="3" rx="2" ry="2"/><path d="M9 17c2 0 2.8-1 2.8-2.8V10c0-2 1-3.3 3.2-3"/><path d="M9 11.2h5.7"/></svg>
<span class="t" style="top:229.0px;font-size:16px;line-height:21px;color:#1f2937;font-weight:700;letter-spacing:-0.18px;left:2019.5px;">Get Customers</span>
<div class="b" style="left:2387px;top:227px;width:38px;height:27px;background:#fff;border:1px solid #d1d5db;border-radius:7px;"></div>
<svg class="b" style="left:2398.5px;top:233.0px;" width="15" height="15" viewBox="0 0 24 24" fill="none" stroke="#374151" stroke-width="2" stroke-linecap="round" stroke-linejoin="round"><path d="M18 13v6a2 2 0 0 1-2 2H5a2 2 0 0 1-2-2V8a2 2 0 0 1 2-2h6"/><polyline points="15 3 21 3 21 9"/><line x1="10" x2="21" y1="14" y2="3"/></svg>
<div class="b" style="left:2430px;top:227px;width:39px;height:27px;background:#fff;border:1px solid #ef4444;border-radius:7px;"></div>
<svg class="b" style="left:2442.0px;top:233.0px;" width="15" height="15" viewBox="0 0 24 24" fill="none" stroke="#dc2626" stroke-width="2" stroke-linecap="round" stroke-linejoin="round"><path d="M18 6 6 18"/><path d="m6 6 12 12"/></svg>
<span class="t" style="top:274.5px;font-size:16px;line-height:21px;color:#1f2937;letter-spacing:0.19px;left:1988.0px;">Hide Refresh Button</span>
<div class="b" style="left:2432px;top:276px;width:37px;height:20px;background:#e5e7eb;border-radius:10px;"></div>
<div class="b" style="left:2434px;top:278px;width:16px;height:16px;background:#fff;border-radius:8px;"></div>
<div class="b" style="left:1978px;top:305px;width:502px;height:1px;background:#e7e9ed;"></div>
<span class="t" style="top:322.5px;font-size:19px;line-height:25px;color:#1f2937;font-weight:700;letter-spacing:-0.24px;left:1988.0px;">Transformer</span>
<svg class="b" style="left:2109.0px;top:327.5px" width="16" height="16" viewBox="0 0 16 16"><circle cx="8" cy="8" r="8" fill="#6b7280"/><circle cx="8" cy="4.4" r="1.15" fill="#fff"/><path d="M6.4 7h2.4v4.4h1v1.2H6.2v-1.2h1V8.2h-.8z" fill="#fff"/></svg>
<div class="b" style="left:2380px;top:317px;width:90px;height:38px;background:#fff;border:1px solid #d1d5db;border-radius:8px;"></div>
<svg class="b" style="left:2398.0px;top:326.5px;" width="18" height="18" viewBox="0 0 24 24" fill="none" stroke="#374151" stroke-width="1.8" stroke-linecap="round" stroke-linejoin="round"><path d="M5 12h14"/><path d="M12 5v14"/></svg>
<span class="t" style="top:325.0px;font-size:16px;line-height:21px;color:#374151;font-weight:700;letter-spacing:-0.55px;left:2423.0px;">Add</span>
<div class="b" style="left:1978px;top:365px;width:502px;height:1px;background:#e7e9ed;"></div>
<span class="t" style="top:376.5px;font-size:19px;line-height:25px;color:#1f2937;font-weight:700;letter-spacing:-0.28px;left:1988.0px;">Triggers</span>
<span class="t" style="top:422.0px;font-size:16px;line-height:21px;color:#1f2937;letter-spacing:0.25px;left:1988.0px;">Run on start and app refresh</span>
<svg class="b" style="left:2211.5px;top:425.5px" width="16" height="16" viewBox="0 0 16 16"><circle cx="8" cy="8" r="8" fill="#6b7280"/><circle cx="8" cy="4.4" r="1.15" fill="#fff"/><path d="M6.4 7h2.4v4.4h1v1.2H6.2v-1.2h1V8.2h-.8z" fill="#fff"/></svg>
<div class="b" style="left:2433px;top:423px;width:37px;height:21px;background:#2563eb;border-radius:11px;"></div>
<div class="b" style="left:2451px;top:425px;width:17px;height:17px;background:#fff;border-radius:9px;"></div>
<span class="t" style="top:462.0px;font-size:16px;line-height:21px;color:#1f2937;letter-spacing:0.25px;left:1988.0px;">Recompute on any input changes</span>
<div class="b" style="left:2433px;top:463px;width:37px;height:21px;background:#2563eb;border-radius:11px;"></div>
<div class="b" style="left:2451px;top:465px;width:17px;height:17px;background:#fff;border-radius:9px;"></div>
<span class="t" style="top:492.0px;font-size:16px;line-height:21px;color:#1f2937;font-weight:700;letter-spacing:-0.39px;left:1988.0px;">Events</span>
<div class="b" style="left:1988px;top:519px;width:58px;height:28px;background:#dcfce7;border:1px solid #6ed598;border-radius:7px;"></div>
<span class="t" style="top:521.5px;font-size:16px;line-height:21px;color:#166534;letter-spacing:0.97px;left:1999.5px;">start</span>
<div class="b" style="left:2056px;top:519px;width:76px;height:28px;background:#dcfce7;border:1px solid #6ed598;border-radius:7px;"></div>
<span class="t" style="top:521.5px;font-size:16px;line-height:21px;color:#166534;letter-spacing:0.62px;left:2067.5px;">refresh</span>
<div class="b" style="left:1961px;top:584px;width:539px;height:1px;background:#e7e9ed;"></div>
<span class="t" style="top:600.5px;font-size:18.5px;line-height:24px;color:#1f2937;font-weight:700;letter-spacing:0.06px;left:1977.0px;">Configuration (2)</span>
<span class="t" style="top:647.5px;font-size:15.5px;line-height:20px;color:#1f2937;font-weight:700;letter-spacing:0.06px;left:1977.0px;">Search</span>
<svg class="b" style="left:2036.0px;top:651.0px" width="15" height="15" viewBox="0 0 16 16"><circle cx="8" cy="8" r="8" fill="#9ca3af"/><circle cx="8" cy="4.4" r="1.15" fill="#fff"/><path d="M6.4 7h2.4v4.4h1v1.2H6.2v-1.2h1V8.2h-.8z" fill="#fff"/></svg>
<div class="b" style="left:2145px;top:637px;width:335px;height:43px;background:#fff;border:1px solid #d1d5db;border-radius:8px;"></div>
<span class="t" style="top:645.0px;font-size:19px;line-height:25px;color:#1f2937;letter-spacing:0.01px;left:2155.5px;">Disabled</span>
<svg class="b" style="left:2445.5px;top:648.0px;" width="20" height="20" viewBox="0 0 24 24" fill="none" stroke="#374151" stroke-width="2" stroke-linecap="round" stroke-linejoin="round"><path d="m6 9 6 6 6-6"/></svg>
<div class="b" style="left:1977px;top:701px;width:503px;height:123px;background:#fff;border:1px solid #e7e9ed;"></div>
<span class="t" style="top:712.0px;font-size:19px;line-height:25px;color:#1f2937;font-weight:700;letter-spacing:-0.51px;left:1988.0px;">Pagination</span>
<div class="b" style="left:1988px;top:748px;width:481px;height:44px;background:#fff;border:1px solid #d1d5db;border-radius:8px;"></div>
<svg class="b" style="left:2434.5px;top:760.0px;" width="20" height="20" viewBox="0 0 24 24" fill="none" stroke="#374151" stroke-width="2" stroke-linecap="round" stroke-linejoin="round"><path d="m6 9 6 6 6-6"/></svg>
<div class="b" style="left:1961px;top:840px;width:539px;height:1px;background:#e7e9ed;"></div>
<span class="t" style="top:856.0px;font-size:18.5px;line-height:24px;color:#1f2937;font-weight:700;letter-spacing:-0.07px;left:1977.0px;">Table actions</span>
<span class="t" style="top:891.5px;font-size:16px;line-height:21px;color:#6b7280;letter-spacing:0.41px;left:1977.0px;">No action buttons</span>
<div class="b" style="left:1977px;top:923px;width:161px;height:44px;background:#fff;border:1px solid #d1d5db;border-radius:8px;"></div>
<svg class="b" style="left:2039.0px;top:939.0px;" width="13" height="13" viewBox="0 0 24 24" fill="none" stroke="#374151" stroke-width="4" stroke-linecap="round" stroke-linejoin="round"><path d="M5 12h14"/><path d="M12 5v14"/></svg>
<svg class="b" style="left:2057.0px;top:937.0px;" width="17" height="17" viewBox="0 0 24 24" fill="none" stroke="#374151" stroke-width="2" stroke-linecap="round" stroke-linejoin="round"><path d="M21 11V5a2 2 0 0 0-2-2H5a2 2 0 0 0-2 2v14a2 2 0 0 0 2 2h6"/><path d="m12 12 4 10 1.7-4.3L22 16Z"/></svg>
<div class="b" style="left:2148px;top:923px;width:160px;height:44px;background:#fff;border:1px solid #d1d5db;border-radius:8px;"></div>
<svg class="b" style="left:2210.5px;top:939.0px;" width="13" height="13" viewBox="0 0 24 24" fill="none" stroke="#374151" stroke-width="4" stroke-linecap="round" stroke-linejoin="round"><path d="M5 12h14"/><path d="M12 5v14"/></svg>
<svg class="b" style="left:2228.5px;top:937.0px;" width="17" height="17" viewBox="0 0 24 24" fill="none" stroke="#374151" stroke-width="2" stroke-linecap="round" stroke-linejoin="round"><rect width="20" height="12" x="2" y="6" rx="6" ry="6"/><circle cx="16" cy="12" r="2"/></svg>
<div class="b" style="left:2319px;top:923px;width:161px;height:44px;background:#fff;border:1px solid #d1d5db;border-radius:8px;"></div>
<svg class="b" style="left:2381.0px;top:939.0px;" width="13" height="13" viewBox="0 0 24 24" fill="none" stroke="#374151" stroke-width="4" stroke-linecap="round" stroke-linejoin="round"><path d="M5 12h14"/><path d="M12 5v14"/></svg>
<svg class="b" style="left:2400.0px;top:937.0px;" width="17" height="17" viewBox="0 0 24 24" fill="none" stroke="#374151" stroke-width="2" stroke-linecap="round" stroke-linejoin="round"><line x1="8" x2="21" y1="6" y2="6"/><line x1="8" x2="21" y1="12" y2="12"/><line x1="8" x2="21" y1="18" y2="18"/><line x1="3" x2="3.01" y1="6" y2="6"/><line x1="3" x2="3.01" y1="12" y2="12"/><line x1="3" x2="3.01" y1="18" y2="18"/></svg>
<div class="b" style="left:1961px;top:982px;width:539px;height:1px;background:#e7e9ed;"></div>
<div class="b" style="left:1961px;top:1067px;width:539px;height:1px;background:#e7e9ed;"></div>
<span class="t" style="top:1090.5px;font-size:18.5px;line-height:24px;color:#1f2937;font-weight:700;letter-spacing:-0.11px;left:1977.0px;">Styling</span>
<div class="b" style="left:2271px;top:1084px;width:74px;height:38px;background:#fff;border:1px solid #d1d5db;border-radius:8px;"></div>
<span class="t" style="top:1092.0px;font-size:16px;line-height:21px;color:#374151;font-weight:700;letter-spacing:-0.39px;left:2287.5px;">Show</span>
<div class="b" style="left:2351px;top:1084px;width:129px;height:38px;background:#fff;border:1px solid #d1d5db;border-radius:8px;"></div>
<span class="t" style="top:1092.0px;font-size:16px;line-height:21px;color:#374151;font-weight:700;letter-spacing:-0.43px;left:2368.0px;">Rich Editor</span>
<svg class="b" style="left:2452.0px;top:1095.0px;" width="16" height="16" viewBox="0 0 24 24" fill="none" stroke="#374151" stroke-width="2.2" stroke-linecap="round" stroke-linejoin="round"><path d="m9 18 6-6-6-6"/></svg>
<div class="b" style="left:1961px;top:1137px;width:539px;height:1px;background:#e7e9ed;"></div>
<span class="t" style="top:1163.0px;font-size:18.5px;line-height:24px;color:#1f2937;font-weight:700;letter-spacing:0.10px;left:1977.0px;">Copy/Move</span>
<div class="b" style="left:2320px;top:1154px;width:160px;height:43px;background:#fff;border:1.500px solid #ef4444;border-radius:8px;"></div>
<span class="t" style="top:1165.0px;font-size:16px;line-height:21px;color:#dc2626;font-weight:700;letter-spacing:0.10px;left:2337.5px;">Delete</span>
<div class="b" style="left:2398px;top:1163px;width:65px;height:25px;background:#fff;border:1px solid #eceef1;border-radius:4px;"></div>
<span class="t" style="top:1164.0px;font-size:17px;line-height:22px;color:#374151;left:2405.0px;font-family:'DejaVu Sans',sans-serif;">⌘</span>
<span class="t" style="top:1164.5px;font-size:16px;line-height:21px;color:#374151;left:2422.5px;">+</span>
<svg class="b" style="left:2435.5px;top:1166.0px;" width="19" height="19" viewBox="0 0 24 24" fill="none" stroke="#374151" stroke-width="1.8" stroke-linecap="round" stroke-linejoin="round"><path d="M20 5H9l-7 7 7 7h11a2 2 0 0 0 2-2V7a2 2 0 0 0-2-2Z"/><line x1="18" x2="12" y1="9" y2="15"/><line x1="12" x2="18" y1="9" y2="15"/></svg>
<span class="t" style="top:1212.5px;font-size:16px;line-height:21px;color:#374151;letter-spacing:0.05px;left:1977.0px;">Copy:</span>
<div class="b" style="left:2038px;top:1210px;width:26px;height:26px;background:#fff;border:1px solid #eceef1;border-radius:5px;box-shadow:0 1px 2px rgba(0,0,0,.06);"></div>
<span class="t" style="left:2038.5px;width:26.0px;text-align:center;top:1213px;line-height:20px;font-size:12px;color:#374151;font-family:'DejaVu Sans',sans-serif;">⌘</span>
<span class="t" style="top:1210.0px;font-size:19px;line-height:25px;color:#111827;left:2066.5px;">+</span>
<div class="b" style="left:2082px;top:1210px;width:26px;height:26px;background:#fff;border:1px solid #eceef1;border-radius:5px;box-shadow:0 1px 2px rgba(0,0,0,.06);"></div>
<span class="t" style="top:1213.5px;font-size:15px;line-height:20px;color:#374151;font-family:'Liberation Mono',monospace;left:2090.7px;">C</span>
<span class="t" style="top:1212.5px;font-size:18px;line-height:23px;color:#111827;font-weight:700;left:2109.5px;">,</span>
<div class="b" style="left:2122px;top:1210px;width:26px;height:26px;background:#fff;border:1px solid #eceef1;border-radius:5px;box-shadow:0 1px 2px rgba(0,0,0,.06);"></div>
<span class="t" style="left:2122.5px;width:26.0px;text-align:center;top:1213px;line-height:20px;font-size:12px;color:#374151;font-family:'DejaVu Sans',sans-serif;">⌘</span>
<span class="t" style="top:1210.0px;font-size:19px;line-height:25px;color:#111827;left:2150.5px;">+</span>
<div class="b" style="left:2166px;top:1210px;width:26px;height:26px;background:#fff;border:1px solid #eceef1;border-radius:5px;box-shadow:0 1px 2px rgba(0,0,0,.06);"></div>
<span class="t" style="top:1213.5px;font-size:15px;line-height:20px;color:#374151;font-family:'Liberation Mono',monospace;left:2174.0px;">V</span>
<span class="t" style="top:1249.5px;font-size:16px;line-height:21px;color:#374151;letter-spacing:0.23px;left:1977.0px;">Move:</span>
<div class="b" style="left:2040px;top:1247px;width:26px;height:26px;background:#fff;border:1px solid #eceef1;border-radius:5px;box-shadow:0 1px 2px rgba(0,0,0,.06);"></div>
<span class="t" style="left:2040.5px;width:26.0px;text-align:center;top:1250px;line-height:20px;font-size:12px;color:#374151;font-family:'DejaVu Sans',sans-serif;">⌘</span>
<span class="t" style="top:1247.0px;font-size:19px;line-height:25px;color:#111827;left:2068.5px;">+</span>
<div class="b" style="left:2084px;top:1247px;width:26px;height:26px;background:#fff;border:1px solid #eceef1;border-radius:5px;box-shadow:0 1px 2px rgba(0,0,0,.06);"></div>
<span class="t" style="top:1250.5px;font-size:15px;line-height:20px;color:#374151;font-family:'Liberation Mono',monospace;left:2092.7px;">X</span>
<span class="t" style="top:1249.5px;font-size:18px;line-height:23px;color:#111827;font-weight:700;left:2111.5px;">,</span>
<div class="b" style="left:2124px;top:1247px;width:26px;height:26px;background:#fff;border:1px solid #eceef1;border-radius:5px;box-shadow:0 1px 2px rgba(0,0,0,.06);"></div>
<span class="t" style="left:2124.5px;width:26.0px;text-align:center;top:1250px;line-height:20px;font-size:12px;color:#374151;font-family:'DejaVu Sans',sans-serif;">⌘</span>
<span class="t" style="top:1247.0px;font-size:19px;line-height:25px;color:#111827;left:2152.5px;">+</span>
<div class="b" style="left:2168px;top:1247px;width:26px;height:26px;background:#fff;border:1px solid #eceef1;border-radius:5px;box-shadow:0 1px 2px rgba(0,0,0,.06);"></div>
<span class="t" style="top:1250.5px;font-size:15px;line-height:20px;color:#374151;font-family:'Liberation Mono',monospace;left:2176.0px;">V</span>
<span class="t" style="top:1286.0px;font-size:16px;line-height:21px;color:#374151;letter-spacing:0.24px;left:1977.0px;">Navigate:</span>
<div class="b" style="left:2066px;top:1283px;width:25px;height:26px;background:#fff;border:1px solid #eceef1;border-radius:5px;box-shadow:0 1px 2px rgba(0,0,0,.06);"></div>
<span class="t" style="top:1288.0px;font-size:13px;line-height:17px;color:#374151;left:2074.6px;font-family:'DejaVu Sans Mono',monospace;">←</span>
<div class="b" style="left:2101px;top:1283px;width:25px;height:26px;background:#fff;border:1px solid #eceef1;border-radius:5px;box-shadow:0 1px 2px rgba(0,0,0,.06);"></div>
<span class="t" style="top:1288.0px;font-size:13px;line-height:17px;color:#374151;left:2109.6px;font-family:'DejaVu Sans Mono',monospace;">↑</span>
<div class="b" style="left:2130px;top:1283px;width:26px;height:26px;background:#fff;border:1px solid #eceef1;border-radius:5px;box-shadow:0 1px 2px rgba(0,0,0,.06);"></div>
<span class="t" style="top:1288.0px;font-size:13px;line-height:17px;color:#374151;left:2139.3px;font-family:'DejaVu Sans Mono',monospace;">→</span>
<div class="b" style="left:2165px;top:1283px;width:45px;height:26px;background:#fff;border:1px solid #eceef1;border-radius:5px;box-shadow:0 1px 2px rgba(0,0,0,.06);"></div>
<span class="t" style="top:1286.5px;font-size:15px;line-height:20px;color:#374151;font-family:'Liberation Mono',monospace;left:2174.0px;">ESC</span>
<span class="t" style="top:1322.5px;font-size:16px;line-height:21px;color:#374151;letter-spacing:0.36px;left:1977.0px;">Add to selection:</span>
<div class="b" style="left:2120px;top:1320px;width:26px;height:26px;background:#fff;border:1px solid #eceef1;border-radius:5px;box-shadow:0 1px 2px rgba(0,0,0,.06);"></div>
<span class="t" style="left:2120.5px;width:25.5px;text-align:center;top:1323px;line-height:20px;font-size:12px;color:#374151;font-family:'DejaVu Sans',sans-serif;">⇑</span>
<span class="t" style="top:1320.0px;font-size:19px;line-height:25px;color:#111827;left:2148.0px;">+</span>
<div class="b" style="left:2164px;top:1320px;width:62px;height:26px;background:#fff;border:1px solid #eceef1;border-radius:5px;box-shadow:0 1px 2px rgba(0,0,0,.06);"></div>
<span class="t" style="top:1323.5px;font-size:15px;line-height:20px;color:#374151;font-family:'Liberation Mono',monospace;left:2172.5px;">click</span>
</body></html>
